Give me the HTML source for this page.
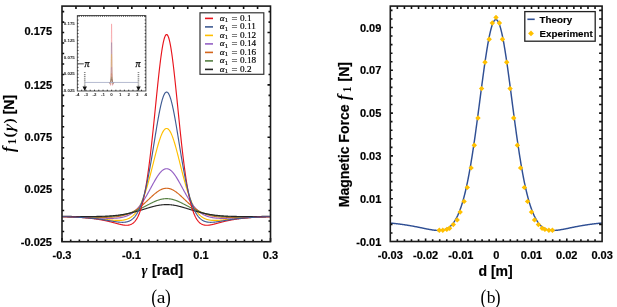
<!DOCTYPE html>
<html><head><meta charset="utf-8"><style>
html,body{margin:0;padding:0;background:#fff;}
svg{display:block;will-change:transform;}
text{font-family:"Liberation Sans",sans-serif;fill:#000;}
.tl{font-size:11px;font-weight:bold;stroke:#000;stroke-width:0.2px;}
.at{font-size:14px;font-weight:bold;stroke:#000;stroke-width:0.2px;}
.cap{font-family:"Liberation Serif",serif;font-size:17.5px;}
.mi{font-family:"Liberation Serif",serif;font-style:italic;font-weight:bold;}
.ms{font-family:"Liberation Serif",serif;font-weight:bold;}
.lg{font-family:"Liberation Serif",serif;font-size:9.2px;fill:#000;stroke:#000;stroke-width:0.18px;}
.lgb{font-size:9.75px;font-weight:bold;stroke:#000;stroke-width:0.15px;}
.it{font-size:4.4px;fill:#222;font-weight:bold;}
.pi{font-family:"Liberation Serif",serif;font-style:italic;font-size:10px;stroke:#000;stroke-width:0.25px;}
</style></head><body>
<svg width="617" height="307" viewBox="0 0 617 307">
<rect width="617" height="307" fill="#fff"/>
<polyline points="62.35,216.65 62.65,216.65 62.95,216.66 63.24,216.67 63.54,216.68 63.84,216.69 64.14,216.69 64.44,216.70 64.73,216.71 65.03,216.72 65.33,216.73 65.63,216.74 65.92,216.75 66.22,216.76 66.52,216.76 66.82,216.77 67.12,216.78 67.41,216.79 67.71,216.80 68.01,216.81 68.31,216.82 68.61,216.83 68.90,216.84 69.20,216.85 69.50,216.86 69.80,216.87 70.09,216.88 70.39,216.89 70.69,216.90 70.99,216.92 71.29,216.93 71.58,216.94 71.88,216.95 72.18,216.96 72.48,216.97 72.77,216.98 73.07,217.00 73.37,217.01 73.67,217.02 73.97,217.03 74.26,217.04 74.56,217.06 74.86,217.07 75.16,217.08 75.46,217.10 75.75,217.11 76.05,217.12 76.35,217.14 76.65,217.15 76.94,217.16 77.24,217.18 77.54,217.19 77.84,217.21 78.14,217.22 78.43,217.24 78.73,217.25 79.03,217.27 79.33,217.28 79.63,217.30 79.92,217.31 80.22,217.33 80.52,217.34 80.82,217.36 81.11,217.38 81.41,217.39 81.71,217.41 82.01,217.43 82.31,217.44 82.60,217.46 82.90,217.48 83.20,217.50 83.50,217.52 83.80,217.53 84.09,217.55 84.39,217.57 84.69,217.59 84.99,217.61 85.28,217.63 85.58,217.65 85.88,217.67 86.18,217.69 86.48,217.71 86.77,217.73 87.07,217.75 87.37,217.77 87.67,217.79 87.97,217.81 88.26,217.83 88.56,217.85 88.86,217.88 89.16,217.90 89.45,217.92 89.75,217.94 90.05,217.97 90.35,217.99 90.65,218.01 90.94,218.04 91.24,218.06 91.54,218.08 91.84,218.11 92.14,218.13 92.43,218.16 92.73,218.18 93.03,218.21 93.33,218.23 93.62,218.26 93.92,218.28 94.22,218.31 94.52,218.34 94.82,218.36 95.11,218.39 95.41,218.42 95.71,218.45 96.01,218.47 96.31,218.50 96.60,218.53 96.90,218.56 97.20,218.59 97.50,218.61 97.79,218.64 98.09,218.67 98.39,218.70 98.69,218.73 98.99,218.76 99.28,218.79 99.58,218.82 99.88,218.85 100.18,218.88 100.48,218.91 100.77,218.94 101.07,218.97 101.37,219.00 101.67,219.04 101.96,219.07 102.26,219.10 102.56,219.13 102.86,219.16 103.16,219.19 103.45,219.23 103.75,219.26 104.05,219.29 104.35,219.32 104.65,219.35 104.94,219.39 105.24,219.42 105.54,219.45 105.84,219.48 106.13,219.51 106.43,219.55 106.73,219.58 107.03,219.61 107.33,219.64 107.62,219.67 107.92,219.70 108.22,219.74 108.52,219.77 108.82,219.80 109.11,219.83 109.41,219.86 109.71,219.89 110.01,219.92 110.30,219.95 110.60,219.98 110.90,220.00 111.20,220.03 111.50,220.06 111.79,220.09 112.09,220.11 112.39,220.14 112.69,220.16 112.99,220.19 113.28,220.21 113.58,220.23 113.88,220.26 114.18,220.28 114.47,220.30 114.77,220.32 115.07,220.33 115.37,220.35 115.67,220.37 115.96,220.38 116.26,220.39 116.56,220.40 116.86,220.41 117.16,220.42 117.45,220.43 117.75,220.44 118.05,220.44 118.35,220.44 118.64,220.44 118.94,220.44 119.24,220.43 119.54,220.43 119.84,220.42 120.13,220.41 120.43,220.39 120.73,220.38 121.03,220.36 121.33,220.33 121.62,220.31 121.92,220.28 122.22,220.25 122.52,220.21 122.81,220.18 123.11,220.13 123.41,220.09 123.71,220.04 124.01,219.99 124.30,219.93 124.60,219.87 124.90,219.80 125.20,219.73 125.50,219.65 125.79,219.57 126.09,219.48 126.39,219.39 126.69,219.29 126.98,219.19 127.28,219.08 127.58,218.97 127.88,218.84 128.18,218.72 128.47,218.58 128.77,218.44 129.07,218.29 129.37,218.13 129.67,217.97 129.96,217.80 130.26,217.62 130.56,217.43 130.86,217.23 131.16,217.02 131.45,216.81 131.75,216.59 132.05,216.35 132.35,216.11 132.64,215.85 132.94,215.59 133.24,215.31 133.54,215.03 133.84,214.73 134.13,214.42 134.43,214.10 134.73,213.77 135.03,213.42 135.32,213.07 135.62,212.70 135.92,212.31 136.22,211.92 136.52,211.51 136.81,211.08 137.11,210.64 137.41,210.19 137.71,209.72 138.01,209.24 138.30,208.74 138.60,208.23 138.90,207.70 139.20,207.16 139.50,206.60 139.79,206.02 140.09,205.43 140.39,204.82 140.69,204.20 140.98,203.55 141.28,202.89 141.58,202.22 141.88,201.52 142.18,200.81 142.47,200.08 142.77,199.33 143.07,198.57 143.37,197.78 143.66,196.98 143.96,196.17 144.26,195.33 144.56,194.48 144.86,193.61 145.15,192.72 145.45,191.82 145.75,190.90 146.05,189.96 146.35,189.00 146.64,188.03 146.94,187.04 147.24,186.04 147.54,185.02 147.84,183.99 148.13,182.94 148.43,181.88 148.73,180.81 149.03,179.72 149.32,178.62 149.62,177.51 149.92,176.39 150.22,175.25 150.52,174.11 150.81,172.96 151.11,171.80 151.41,170.63 151.71,169.46 152.00,168.28 152.30,167.10 152.60,165.91 152.90,164.72 153.20,163.53 153.49,162.34 153.79,161.15 154.09,159.97 154.39,158.78 154.69,157.60 154.98,156.43 155.28,155.26 155.58,154.10 155.88,152.95 156.18,151.81 156.47,150.69 156.77,149.57 157.07,148.47 157.37,147.39 157.66,146.32 157.96,145.28 158.26,144.25 158.56,143.25 158.86,142.26 159.15,141.31 159.45,140.37 159.75,139.47 160.05,138.59 160.34,137.74 160.64,136.92 160.94,136.14 161.24,135.38 161.54,134.66 161.83,133.98 162.13,133.33 162.43,132.72 162.73,132.14 163.03,131.61 163.32,131.11 163.62,130.66 163.92,130.24 164.22,129.87 164.51,129.54 164.81,129.25 165.11,129.01 165.41,128.81 165.71,128.66 166.00,128.54 166.30,128.48 166.60,128.46 166.90,128.48 167.20,128.54 167.49,128.66 167.79,128.81 168.09,129.01 168.39,129.25 168.69,129.54 168.98,129.87 169.28,130.24 169.58,130.66 169.88,131.11 170.17,131.61 170.47,132.14 170.77,132.72 171.07,133.33 171.37,133.98 171.66,134.66 171.96,135.38 172.26,136.14 172.56,136.92 172.85,137.74 173.15,138.59 173.45,139.47 173.75,140.37 174.05,141.31 174.34,142.26 174.64,143.25 174.94,144.25 175.24,145.28 175.54,146.32 175.83,147.39 176.13,148.47 176.43,149.57 176.73,150.69 177.03,151.81 177.32,152.95 177.62,154.10 177.92,155.26 178.22,156.43 178.51,157.60 178.81,158.78 179.11,159.97 179.41,161.15 179.71,162.34 180.00,163.53 180.30,164.72 180.60,165.91 180.90,167.10 181.19,168.28 181.49,169.46 181.79,170.63 182.09,171.80 182.39,172.96 182.68,174.11 182.98,175.25 183.28,176.39 183.58,177.51 183.88,178.62 184.17,179.72 184.47,180.81 184.77,181.88 185.07,182.94 185.36,183.99 185.66,185.02 185.96,186.04 186.26,187.04 186.56,188.03 186.85,189.00 187.15,189.96 187.45,190.90 187.75,191.82 188.05,192.72 188.34,193.61 188.64,194.48 188.94,195.33 189.24,196.17 189.53,196.98 189.83,197.78 190.13,198.57 190.43,199.33 190.73,200.08 191.02,200.81 191.32,201.52 191.62,202.22 191.92,202.89 192.22,203.55 192.51,204.20 192.81,204.82 193.11,205.43 193.41,206.02 193.70,206.60 194.00,207.16 194.30,207.70 194.60,208.23 194.90,208.74 195.19,209.24 195.49,209.72 195.79,210.19 196.09,210.64 196.39,211.08 196.68,211.51 196.98,211.92 197.28,212.31 197.58,212.70 197.88,213.07 198.17,213.42 198.47,213.77 198.77,214.10 199.07,214.42 199.36,214.73 199.66,215.03 199.96,215.31 200.26,215.59 200.56,215.85 200.85,216.11 201.15,216.35 201.45,216.59 201.75,216.81 202.04,217.02 202.34,217.23 202.64,217.43 202.94,217.62 203.24,217.80 203.53,217.97 203.83,218.13 204.13,218.29 204.43,218.44 204.73,218.58 205.02,218.72 205.32,218.84 205.62,218.97 205.92,219.08 206.22,219.19 206.51,219.29 206.81,219.39 207.11,219.48 207.41,219.57 207.70,219.65 208.00,219.73 208.30,219.80 208.60,219.87 208.90,219.93 209.19,219.99 209.49,220.04 209.79,220.09 210.09,220.13 210.38,220.18 210.68,220.21 210.98,220.25 211.28,220.28 211.58,220.31 211.87,220.33 212.17,220.36 212.47,220.38 212.77,220.39 213.07,220.41 213.36,220.42 213.66,220.43 213.96,220.43 214.26,220.44 214.55,220.44 214.85,220.44 215.15,220.44 215.45,220.44 215.75,220.43 216.04,220.42 216.34,220.41 216.64,220.40 216.94,220.39 217.24,220.38 217.53,220.37 217.83,220.35 218.13,220.33 218.43,220.32 218.72,220.30 219.02,220.28 219.32,220.26 219.62,220.23 219.92,220.21 220.21,220.19 220.51,220.16 220.81,220.14 221.11,220.11 221.41,220.09 221.70,220.06 222.00,220.03 222.30,220.00 222.60,219.98 222.89,219.95 223.19,219.92 223.49,219.89 223.79,219.86 224.09,219.83 224.38,219.80 224.68,219.77 224.98,219.74 225.28,219.70 225.58,219.67 225.87,219.64 226.17,219.61 226.47,219.58 226.77,219.55 227.07,219.51 227.36,219.48 227.66,219.45 227.96,219.42 228.26,219.39 228.55,219.35 228.85,219.32 229.15,219.29 229.45,219.26 229.75,219.23 230.04,219.19 230.34,219.16 230.64,219.13 230.94,219.10 231.23,219.07 231.53,219.04 231.83,219.00 232.13,218.97 232.43,218.94 232.72,218.91 233.02,218.88 233.32,218.85 233.62,218.82 233.92,218.79 234.21,218.76 234.51,218.73 234.81,218.70 235.11,218.67 235.40,218.64 235.70,218.61 236.00,218.59 236.30,218.56 236.60,218.53 236.89,218.50 237.19,218.47 237.49,218.45 237.79,218.42 238.09,218.39 238.38,218.36 238.68,218.34 238.98,218.31 239.28,218.28 239.58,218.26 239.87,218.23 240.17,218.21 240.47,218.18 240.77,218.16 241.06,218.13 241.36,218.11 241.66,218.08 241.96,218.06 242.26,218.04 242.55,218.01 242.85,217.99 243.15,217.97 243.45,217.94 243.75,217.92 244.04,217.90 244.34,217.88 244.64,217.85 244.94,217.83 245.23,217.81 245.53,217.79 245.83,217.77 246.13,217.75 246.43,217.73 246.72,217.71 247.02,217.69 247.32,217.67 247.62,217.65 247.91,217.63 248.21,217.61 248.51,217.59 248.81,217.57 249.11,217.55 249.40,217.53 249.70,217.52 250.00,217.50 250.30,217.48 250.60,217.46 250.89,217.44 251.19,217.43 251.49,217.41 251.79,217.39 252.08,217.38 252.38,217.36 252.68,217.34 252.98,217.33 253.28,217.31 253.57,217.30 253.87,217.28 254.17,217.27 254.47,217.25 254.77,217.24 255.06,217.22 255.36,217.21 255.66,217.19 255.96,217.18 256.25,217.16 256.55,217.15 256.85,217.14 257.15,217.12 257.45,217.11 257.74,217.10 258.04,217.08 258.34,217.07 258.64,217.06 258.94,217.04 259.23,217.03 259.53,217.02 259.83,217.01 260.13,217.00 260.43,216.98 260.72,216.97 261.02,216.96 261.32,216.95 261.62,216.94 261.91,216.93 262.21,216.92 262.51,216.90 262.81,216.89 263.11,216.88 263.40,216.87 263.70,216.86 264.00,216.85 264.30,216.84 264.60,216.83 264.89,216.82 265.19,216.81 265.49,216.80 265.79,216.79 266.08,216.78 266.38,216.77 266.68,216.76 266.98,216.76 267.28,216.75 267.57,216.74 267.87,216.73 268.17,216.72 268.47,216.71 268.76,216.70 269.06,216.69 269.36,216.69 269.66,216.68 269.96,216.67 270.25,216.66 270.55,216.65 270.85,216.65" fill="none" stroke="#ffbf00" stroke-width="1.15"/>
<polyline points="62.35,216.60 62.65,216.61 62.95,216.62 63.24,216.62 63.54,216.63 63.84,216.64 64.14,216.65 64.44,216.65 64.73,216.66 65.03,216.67 65.33,216.67 65.63,216.68 65.92,216.69 66.22,216.70 66.52,216.70 66.82,216.71 67.12,216.72 67.41,216.73 67.71,216.73 68.01,216.74 68.31,216.75 68.61,216.76 68.90,216.77 69.20,216.77 69.50,216.78 69.80,216.79 70.09,216.80 70.39,216.81 70.69,216.82 70.99,216.83 71.29,216.83 71.58,216.84 71.88,216.85 72.18,216.86 72.48,216.87 72.77,216.88 73.07,216.89 73.37,216.90 73.67,216.91 73.97,216.92 74.26,216.93 74.56,216.94 74.86,216.95 75.16,216.96 75.46,216.97 75.75,216.98 76.05,216.99 76.35,217.00 76.65,217.01 76.94,217.02 77.24,217.03 77.54,217.04 77.84,217.05 78.14,217.06 78.43,217.07 78.73,217.08 79.03,217.09 79.33,217.10 79.63,217.12 79.92,217.13 80.22,217.14 80.52,217.15 80.82,217.16 81.11,217.17 81.41,217.19 81.71,217.20 82.01,217.21 82.31,217.22 82.60,217.23 82.90,217.25 83.20,217.26 83.50,217.27 83.80,217.28 84.09,217.30 84.39,217.31 84.69,217.32 84.99,217.34 85.28,217.35 85.58,217.36 85.88,217.38 86.18,217.39 86.48,217.40 86.77,217.42 87.07,217.43 87.37,217.44 87.67,217.46 87.97,217.47 88.26,217.48 88.56,217.50 88.86,217.51 89.16,217.53 89.45,217.54 89.75,217.55 90.05,217.57 90.35,217.58 90.65,217.60 90.94,217.61 91.24,217.63 91.54,217.64 91.84,217.66 92.14,217.67 92.43,217.69 92.73,217.70 93.03,217.71 93.33,217.73 93.62,217.74 93.92,217.76 94.22,217.77 94.52,217.79 94.82,217.80 95.11,217.82 95.41,217.83 95.71,217.85 96.01,217.86 96.31,217.88 96.60,217.89 96.90,217.91 97.20,217.92 97.50,217.94 97.79,217.95 98.09,217.97 98.39,217.98 98.69,218.00 98.99,218.01 99.28,218.02 99.58,218.04 99.88,218.05 100.18,218.07 100.48,218.08 100.77,218.09 101.07,218.11 101.37,218.12 101.67,218.13 101.96,218.15 102.26,218.16 102.56,218.17 102.86,218.18 103.16,218.19 103.45,218.21 103.75,218.22 104.05,218.23 104.35,218.24 104.65,218.25 104.94,218.26 105.24,218.27 105.54,218.28 105.84,218.29 106.13,218.30 106.43,218.31 106.73,218.31 107.03,218.32 107.33,218.33 107.62,218.34 107.92,218.34 108.22,218.35 108.52,218.35 108.82,218.36 109.11,218.36 109.41,218.36 109.71,218.36 110.01,218.37 110.30,218.37 110.60,218.37 110.90,218.36 111.20,218.36 111.50,218.36 111.79,218.36 112.09,218.35 112.39,218.35 112.69,218.34 112.99,218.33 113.28,218.32 113.58,218.32 113.88,218.30 114.18,218.29 114.47,218.28 114.77,218.27 115.07,218.25 115.37,218.23 115.67,218.21 115.96,218.19 116.26,218.17 116.56,218.15 116.86,218.12 117.16,218.10 117.45,218.07 117.75,218.04 118.05,218.01 118.35,217.98 118.64,217.94 118.94,217.90 119.24,217.86 119.54,217.82 119.84,217.78 120.13,217.73 120.43,217.68 120.73,217.63 121.03,217.58 121.33,217.52 121.62,217.47 121.92,217.40 122.22,217.34 122.52,217.27 122.81,217.21 123.11,217.13 123.41,217.06 123.71,216.98 124.01,216.90 124.30,216.81 124.60,216.72 124.90,216.63 125.20,216.54 125.50,216.44 125.79,216.34 126.09,216.23 126.39,216.12 126.69,216.01 126.98,215.89 127.28,215.77 127.58,215.64 127.88,215.51 128.18,215.38 128.47,215.24 128.77,215.09 129.07,214.94 129.37,214.79 129.67,214.63 129.96,214.47 130.26,214.30 130.56,214.13 130.86,213.95 131.16,213.76 131.45,213.58 131.75,213.38 132.05,213.18 132.35,212.97 132.64,212.76 132.94,212.54 133.24,212.32 133.54,212.09 133.84,211.86 134.13,211.61 134.43,211.37 134.73,211.11 135.03,210.85 135.32,210.58 135.62,210.31 135.92,210.03 136.22,209.74 136.52,209.45 136.81,209.15 137.11,208.84 137.41,208.53 137.71,208.21 138.01,207.88 138.30,207.55 138.60,207.20 138.90,206.85 139.20,206.50 139.50,206.14 139.79,205.77 140.09,205.39 140.39,205.01 140.69,204.62 140.98,204.22 141.28,203.81 141.58,203.40 141.88,202.99 142.18,202.56 142.47,202.13 142.77,201.69 143.07,201.25 143.37,200.80 143.66,200.34 143.96,199.88 144.26,199.41 144.56,198.93 144.86,198.45 145.15,197.96 145.45,197.47 145.75,196.97 146.05,196.47 146.35,195.96 146.64,195.45 146.94,194.93 147.24,194.41 147.54,193.89 147.84,193.36 148.13,192.83 148.43,192.29 148.73,191.75 149.03,191.21 149.32,190.67 149.62,190.12 149.92,189.57 150.22,189.02 150.52,188.48 150.81,187.92 151.11,187.37 151.41,186.82 151.71,186.27 152.00,185.72 152.30,185.18 152.60,184.63 152.90,184.09 153.20,183.54 153.49,183.00 153.79,182.47 154.09,181.94 154.39,181.41 154.69,180.89 154.98,180.37 155.28,179.86 155.58,179.35 155.88,178.85 156.18,178.36 156.47,177.87 156.77,177.40 157.07,176.93 157.37,176.47 157.66,176.02 157.96,175.58 158.26,175.15 158.56,174.73 158.86,174.32 159.15,173.92 159.45,173.53 159.75,173.16 160.05,172.80 160.34,172.45 160.64,172.12 160.94,171.80 161.24,171.49 161.54,171.20 161.83,170.92 162.13,170.66 162.43,170.42 162.73,170.19 163.03,169.97 163.32,169.77 163.62,169.59 163.92,169.43 164.22,169.28 164.51,169.15 164.81,169.03 165.11,168.94 165.41,168.86 165.71,168.79 166.00,168.75 166.30,168.72 166.60,168.71 166.90,168.72 167.20,168.75 167.49,168.79 167.79,168.86 168.09,168.94 168.39,169.03 168.69,169.15 168.98,169.28 169.28,169.43 169.58,169.59 169.88,169.77 170.17,169.97 170.47,170.19 170.77,170.42 171.07,170.66 171.37,170.92 171.66,171.20 171.96,171.49 172.26,171.80 172.56,172.12 172.85,172.45 173.15,172.80 173.45,173.16 173.75,173.53 174.05,173.92 174.34,174.32 174.64,174.73 174.94,175.15 175.24,175.58 175.54,176.02 175.83,176.47 176.13,176.93 176.43,177.40 176.73,177.87 177.03,178.36 177.32,178.85 177.62,179.35 177.92,179.86 178.22,180.37 178.51,180.89 178.81,181.41 179.11,181.94 179.41,182.47 179.71,183.00 180.00,183.54 180.30,184.09 180.60,184.63 180.90,185.18 181.19,185.72 181.49,186.27 181.79,186.82 182.09,187.37 182.39,187.92 182.68,188.48 182.98,189.02 183.28,189.57 183.58,190.12 183.88,190.67 184.17,191.21 184.47,191.75 184.77,192.29 185.07,192.83 185.36,193.36 185.66,193.89 185.96,194.41 186.26,194.93 186.56,195.45 186.85,195.96 187.15,196.47 187.45,196.97 187.75,197.47 188.05,197.96 188.34,198.45 188.64,198.93 188.94,199.41 189.24,199.88 189.53,200.34 189.83,200.80 190.13,201.25 190.43,201.69 190.73,202.13 191.02,202.56 191.32,202.99 191.62,203.40 191.92,203.81 192.22,204.22 192.51,204.62 192.81,205.01 193.11,205.39 193.41,205.77 193.70,206.14 194.00,206.50 194.30,206.85 194.60,207.20 194.90,207.55 195.19,207.88 195.49,208.21 195.79,208.53 196.09,208.84 196.39,209.15 196.68,209.45 196.98,209.74 197.28,210.03 197.58,210.31 197.88,210.58 198.17,210.85 198.47,211.11 198.77,211.37 199.07,211.61 199.36,211.86 199.66,212.09 199.96,212.32 200.26,212.54 200.56,212.76 200.85,212.97 201.15,213.18 201.45,213.38 201.75,213.58 202.04,213.76 202.34,213.95 202.64,214.13 202.94,214.30 203.24,214.47 203.53,214.63 203.83,214.79 204.13,214.94 204.43,215.09 204.73,215.24 205.02,215.38 205.32,215.51 205.62,215.64 205.92,215.77 206.22,215.89 206.51,216.01 206.81,216.12 207.11,216.23 207.41,216.34 207.70,216.44 208.00,216.54 208.30,216.63 208.60,216.72 208.90,216.81 209.19,216.90 209.49,216.98 209.79,217.06 210.09,217.13 210.38,217.21 210.68,217.27 210.98,217.34 211.28,217.40 211.58,217.47 211.87,217.52 212.17,217.58 212.47,217.63 212.77,217.68 213.07,217.73 213.36,217.78 213.66,217.82 213.96,217.86 214.26,217.90 214.55,217.94 214.85,217.98 215.15,218.01 215.45,218.04 215.75,218.07 216.04,218.10 216.34,218.12 216.64,218.15 216.94,218.17 217.24,218.19 217.53,218.21 217.83,218.23 218.13,218.25 218.43,218.27 218.72,218.28 219.02,218.29 219.32,218.30 219.62,218.32 219.92,218.32 220.21,218.33 220.51,218.34 220.81,218.35 221.11,218.35 221.41,218.36 221.70,218.36 222.00,218.36 222.30,218.36 222.60,218.37 222.89,218.37 223.19,218.37 223.49,218.36 223.79,218.36 224.09,218.36 224.38,218.36 224.68,218.35 224.98,218.35 225.28,218.34 225.58,218.34 225.87,218.33 226.17,218.32 226.47,218.31 226.77,218.31 227.07,218.30 227.36,218.29 227.66,218.28 227.96,218.27 228.26,218.26 228.55,218.25 228.85,218.24 229.15,218.23 229.45,218.22 229.75,218.21 230.04,218.19 230.34,218.18 230.64,218.17 230.94,218.16 231.23,218.15 231.53,218.13 231.83,218.12 232.13,218.11 232.43,218.09 232.72,218.08 233.02,218.07 233.32,218.05 233.62,218.04 233.92,218.02 234.21,218.01 234.51,218.00 234.81,217.98 235.11,217.97 235.40,217.95 235.70,217.94 236.00,217.92 236.30,217.91 236.60,217.89 236.89,217.88 237.19,217.86 237.49,217.85 237.79,217.83 238.09,217.82 238.38,217.80 238.68,217.79 238.98,217.77 239.28,217.76 239.58,217.74 239.87,217.73 240.17,217.71 240.47,217.70 240.77,217.69 241.06,217.67 241.36,217.66 241.66,217.64 241.96,217.63 242.26,217.61 242.55,217.60 242.85,217.58 243.15,217.57 243.45,217.55 243.75,217.54 244.04,217.53 244.34,217.51 244.64,217.50 244.94,217.48 245.23,217.47 245.53,217.46 245.83,217.44 246.13,217.43 246.43,217.42 246.72,217.40 247.02,217.39 247.32,217.38 247.62,217.36 247.91,217.35 248.21,217.34 248.51,217.32 248.81,217.31 249.11,217.30 249.40,217.28 249.70,217.27 250.00,217.26 250.30,217.25 250.60,217.23 250.89,217.22 251.19,217.21 251.49,217.20 251.79,217.19 252.08,217.17 252.38,217.16 252.68,217.15 252.98,217.14 253.28,217.13 253.57,217.12 253.87,217.10 254.17,217.09 254.47,217.08 254.77,217.07 255.06,217.06 255.36,217.05 255.66,217.04 255.96,217.03 256.25,217.02 256.55,217.01 256.85,217.00 257.15,216.99 257.45,216.98 257.74,216.97 258.04,216.96 258.34,216.95 258.64,216.94 258.94,216.93 259.23,216.92 259.53,216.91 259.83,216.90 260.13,216.89 260.43,216.88 260.72,216.87 261.02,216.86 261.32,216.85 261.62,216.84 261.91,216.83 262.21,216.83 262.51,216.82 262.81,216.81 263.11,216.80 263.40,216.79 263.70,216.78 264.00,216.77 264.30,216.77 264.60,216.76 264.89,216.75 265.19,216.74 265.49,216.73 265.79,216.73 266.08,216.72 266.38,216.71 266.68,216.70 266.98,216.70 267.28,216.69 267.57,216.68 267.87,216.67 268.17,216.67 268.47,216.66 268.76,216.65 269.06,216.65 269.36,216.64 269.66,216.63 269.96,216.62 270.25,216.62 270.55,216.61 270.85,216.60" fill="none" stroke="#9460c4" stroke-width="1.15"/>
<polyline points="62.35,216.54 62.65,216.54 62.95,216.55 63.24,216.55 63.54,216.56 63.84,216.56 64.14,216.57 64.44,216.57 64.73,216.58 65.03,216.59 65.33,216.59 65.63,216.60 65.92,216.60 66.22,216.61 66.52,216.61 66.82,216.62 67.12,216.62 67.41,216.63 67.71,216.64 68.01,216.64 68.31,216.65 68.61,216.65 68.90,216.66 69.20,216.67 69.50,216.67 69.80,216.68 70.09,216.69 70.39,216.69 70.69,216.70 70.99,216.70 71.29,216.71 71.58,216.72 71.88,216.72 72.18,216.73 72.48,216.74 72.77,216.74 73.07,216.75 73.37,216.76 73.67,216.76 73.97,216.77 74.26,216.78 74.56,216.78 74.86,216.79 75.16,216.80 75.46,216.80 75.75,216.81 76.05,216.82 76.35,216.82 76.65,216.83 76.94,216.84 77.24,216.85 77.54,216.85 77.84,216.86 78.14,216.87 78.43,216.88 78.73,216.88 79.03,216.89 79.33,216.90 79.63,216.90 79.92,216.91 80.22,216.92 80.52,216.93 80.82,216.93 81.11,216.94 81.41,216.95 81.71,216.96 82.01,216.96 82.31,216.97 82.60,216.98 82.90,216.99 83.20,216.99 83.50,217.00 83.80,217.01 84.09,217.02 84.39,217.03 84.69,217.03 84.99,217.04 85.28,217.05 85.58,217.06 85.88,217.06 86.18,217.07 86.48,217.08 86.77,217.09 87.07,217.09 87.37,217.10 87.67,217.11 87.97,217.12 88.26,217.12 88.56,217.13 88.86,217.14 89.16,217.15 89.45,217.15 89.75,217.16 90.05,217.17 90.35,217.17 90.65,217.18 90.94,217.19 91.24,217.20 91.54,217.20 91.84,217.21 92.14,217.22 92.43,217.22 92.73,217.23 93.03,217.24 93.33,217.24 93.62,217.25 93.92,217.26 94.22,217.26 94.52,217.27 94.82,217.27 95.11,217.28 95.41,217.28 95.71,217.29 96.01,217.30 96.31,217.30 96.60,217.31 96.90,217.31 97.20,217.31 97.50,217.32 97.79,217.32 98.09,217.33 98.39,217.33 98.69,217.34 98.99,217.34 99.28,217.34 99.58,217.34 99.88,217.35 100.18,217.35 100.48,217.35 100.77,217.35 101.07,217.36 101.37,217.36 101.67,217.36 101.96,217.36 102.26,217.36 102.56,217.36 102.86,217.36 103.16,217.36 103.45,217.36 103.75,217.36 104.05,217.35 104.35,217.35 104.65,217.35 104.94,217.34 105.24,217.34 105.54,217.34 105.84,217.33 106.13,217.33 106.43,217.32 106.73,217.32 107.03,217.31 107.33,217.30 107.62,217.29 107.92,217.28 108.22,217.28 108.52,217.27 108.82,217.25 109.11,217.24 109.41,217.23 109.71,217.22 110.01,217.21 110.30,217.19 110.60,217.18 110.90,217.16 111.20,217.14 111.50,217.13 111.79,217.11 112.09,217.09 112.39,217.07 112.69,217.05 112.99,217.03 113.28,217.00 113.58,216.98 113.88,216.95 114.18,216.93 114.47,216.90 114.77,216.87 115.07,216.84 115.37,216.81 115.67,216.78 115.96,216.75 116.26,216.71 116.56,216.68 116.86,216.64 117.16,216.60 117.45,216.56 117.75,216.52 118.05,216.48 118.35,216.44 118.64,216.39 118.94,216.34 119.24,216.29 119.54,216.24 119.84,216.19 120.13,216.14 120.43,216.08 120.73,216.03 121.03,215.97 121.33,215.91 121.62,215.84 121.92,215.78 122.22,215.71 122.52,215.65 122.81,215.58 123.11,215.50 123.41,215.43 123.71,215.35 124.01,215.27 124.30,215.19 124.60,215.11 124.90,215.03 125.20,214.94 125.50,214.85 125.79,214.76 126.09,214.66 126.39,214.56 126.69,214.47 126.98,214.36 127.28,214.26 127.58,214.15 127.88,214.04 128.18,213.93 128.47,213.82 128.77,213.70 129.07,213.58 129.37,213.45 129.67,213.33 129.96,213.20 130.26,213.07 130.56,212.93 130.86,212.80 131.16,212.66 131.45,212.51 131.75,212.37 132.05,212.22 132.35,212.07 132.64,211.91 132.94,211.75 133.24,211.59 133.54,211.43 133.84,211.26 134.13,211.09 134.43,210.92 134.73,210.74 135.03,210.56 135.32,210.38 135.62,210.19 135.92,210.00 136.22,209.81 136.52,209.61 136.81,209.41 137.11,209.21 137.41,209.01 137.71,208.80 138.01,208.59 138.30,208.37 138.60,208.16 138.90,207.94 139.20,207.71 139.50,207.49 139.79,207.26 140.09,207.03 140.39,206.79 140.69,206.55 140.98,206.31 141.28,206.07 141.58,205.83 141.88,205.58 142.18,205.33 142.47,205.07 142.77,204.82 143.07,204.56 143.37,204.30 143.66,204.04 143.96,203.77 144.26,203.51 144.56,203.24 144.86,202.97 145.15,202.70 145.45,202.43 145.75,202.15 146.05,201.88 146.35,201.60 146.64,201.32 146.94,201.04 147.24,200.76 147.54,200.48 147.84,200.20 148.13,199.92 148.43,199.64 148.73,199.35 149.03,199.07 149.32,198.79 149.62,198.51 149.92,198.22 150.22,197.94 150.52,197.66 150.81,197.38 151.11,197.11 151.41,196.83 151.71,196.55 152.00,196.28 152.30,196.01 152.60,195.73 152.90,195.47 153.20,195.20 153.49,194.94 153.79,194.67 154.09,194.42 154.39,194.16 154.69,193.91 154.98,193.66 155.28,193.41 155.58,193.17 155.88,192.93 156.18,192.70 156.47,192.47 156.77,192.25 157.07,192.02 157.37,191.81 157.66,191.60 157.96,191.39 158.26,191.19 158.56,191.00 158.86,190.81 159.15,190.62 159.45,190.45 159.75,190.27 160.05,190.11 160.34,189.95 160.64,189.80 160.94,189.65 161.24,189.51 161.54,189.38 161.83,189.25 162.13,189.13 162.43,189.02 162.73,188.92 163.03,188.82 163.32,188.73 163.62,188.65 163.92,188.57 164.22,188.51 164.51,188.45 164.81,188.40 165.11,188.35 165.41,188.32 165.71,188.29 166.00,188.27 166.30,188.26 166.60,188.25 166.90,188.26 167.20,188.27 167.49,188.29 167.79,188.32 168.09,188.35 168.39,188.40 168.69,188.45 168.98,188.51 169.28,188.57 169.58,188.65 169.88,188.73 170.17,188.82 170.47,188.92 170.77,189.02 171.07,189.13 171.37,189.25 171.66,189.38 171.96,189.51 172.26,189.65 172.56,189.80 172.85,189.95 173.15,190.11 173.45,190.27 173.75,190.45 174.05,190.62 174.34,190.81 174.64,191.00 174.94,191.19 175.24,191.39 175.54,191.60 175.83,191.81 176.13,192.02 176.43,192.25 176.73,192.47 177.03,192.70 177.32,192.93 177.62,193.17 177.92,193.41 178.22,193.66 178.51,193.91 178.81,194.16 179.11,194.42 179.41,194.67 179.71,194.94 180.00,195.20 180.30,195.47 180.60,195.73 180.90,196.01 181.19,196.28 181.49,196.55 181.79,196.83 182.09,197.11 182.39,197.38 182.68,197.66 182.98,197.94 183.28,198.22 183.58,198.51 183.88,198.79 184.17,199.07 184.47,199.35 184.77,199.64 185.07,199.92 185.36,200.20 185.66,200.48 185.96,200.76 186.26,201.04 186.56,201.32 186.85,201.60 187.15,201.88 187.45,202.15 187.75,202.43 188.05,202.70 188.34,202.97 188.64,203.24 188.94,203.51 189.24,203.77 189.53,204.04 189.83,204.30 190.13,204.56 190.43,204.82 190.73,205.07 191.02,205.33 191.32,205.58 191.62,205.83 191.92,206.07 192.22,206.31 192.51,206.55 192.81,206.79 193.11,207.03 193.41,207.26 193.70,207.49 194.00,207.71 194.30,207.94 194.60,208.16 194.90,208.37 195.19,208.59 195.49,208.80 195.79,209.01 196.09,209.21 196.39,209.41 196.68,209.61 196.98,209.81 197.28,210.00 197.58,210.19 197.88,210.38 198.17,210.56 198.47,210.74 198.77,210.92 199.07,211.09 199.36,211.26 199.66,211.43 199.96,211.59 200.26,211.75 200.56,211.91 200.85,212.07 201.15,212.22 201.45,212.37 201.75,212.51 202.04,212.66 202.34,212.80 202.64,212.93 202.94,213.07 203.24,213.20 203.53,213.33 203.83,213.45 204.13,213.58 204.43,213.70 204.73,213.82 205.02,213.93 205.32,214.04 205.62,214.15 205.92,214.26 206.22,214.36 206.51,214.47 206.81,214.56 207.11,214.66 207.41,214.76 207.70,214.85 208.00,214.94 208.30,215.03 208.60,215.11 208.90,215.19 209.19,215.27 209.49,215.35 209.79,215.43 210.09,215.50 210.38,215.58 210.68,215.65 210.98,215.71 211.28,215.78 211.58,215.84 211.87,215.91 212.17,215.97 212.47,216.03 212.77,216.08 213.07,216.14 213.36,216.19 213.66,216.24 213.96,216.29 214.26,216.34 214.55,216.39 214.85,216.44 215.15,216.48 215.45,216.52 215.75,216.56 216.04,216.60 216.34,216.64 216.64,216.68 216.94,216.71 217.24,216.75 217.53,216.78 217.83,216.81 218.13,216.84 218.43,216.87 218.72,216.90 219.02,216.93 219.32,216.95 219.62,216.98 219.92,217.00 220.21,217.03 220.51,217.05 220.81,217.07 221.11,217.09 221.41,217.11 221.70,217.13 222.00,217.14 222.30,217.16 222.60,217.18 222.89,217.19 223.19,217.21 223.49,217.22 223.79,217.23 224.09,217.24 224.38,217.25 224.68,217.27 224.98,217.28 225.28,217.28 225.58,217.29 225.87,217.30 226.17,217.31 226.47,217.32 226.77,217.32 227.07,217.33 227.36,217.33 227.66,217.34 227.96,217.34 228.26,217.34 228.55,217.35 228.85,217.35 229.15,217.35 229.45,217.36 229.75,217.36 230.04,217.36 230.34,217.36 230.64,217.36 230.94,217.36 231.23,217.36 231.53,217.36 231.83,217.36 232.13,217.36 232.43,217.35 232.72,217.35 233.02,217.35 233.32,217.35 233.62,217.34 233.92,217.34 234.21,217.34 234.51,217.34 234.81,217.33 235.11,217.33 235.40,217.32 235.70,217.32 236.00,217.31 236.30,217.31 236.60,217.31 236.89,217.30 237.19,217.30 237.49,217.29 237.79,217.28 238.09,217.28 238.38,217.27 238.68,217.27 238.98,217.26 239.28,217.26 239.58,217.25 239.87,217.24 240.17,217.24 240.47,217.23 240.77,217.22 241.06,217.22 241.36,217.21 241.66,217.20 241.96,217.20 242.26,217.19 242.55,217.18 242.85,217.17 243.15,217.17 243.45,217.16 243.75,217.15 244.04,217.15 244.34,217.14 244.64,217.13 244.94,217.12 245.23,217.12 245.53,217.11 245.83,217.10 246.13,217.09 246.43,217.09 246.72,217.08 247.02,217.07 247.32,217.06 247.62,217.06 247.91,217.05 248.21,217.04 248.51,217.03 248.81,217.03 249.11,217.02 249.40,217.01 249.70,217.00 250.00,216.99 250.30,216.99 250.60,216.98 250.89,216.97 251.19,216.96 251.49,216.96 251.79,216.95 252.08,216.94 252.38,216.93 252.68,216.93 252.98,216.92 253.28,216.91 253.57,216.90 253.87,216.90 254.17,216.89 254.47,216.88 254.77,216.88 255.06,216.87 255.36,216.86 255.66,216.85 255.96,216.85 256.25,216.84 256.55,216.83 256.85,216.82 257.15,216.82 257.45,216.81 257.74,216.80 258.04,216.80 258.34,216.79 258.64,216.78 258.94,216.78 259.23,216.77 259.53,216.76 259.83,216.76 260.13,216.75 260.43,216.74 260.72,216.74 261.02,216.73 261.32,216.72 261.62,216.72 261.91,216.71 262.21,216.70 262.51,216.70 262.81,216.69 263.11,216.69 263.40,216.68 263.70,216.67 264.00,216.67 264.30,216.66 264.60,216.65 264.89,216.65 265.19,216.64 265.49,216.64 265.79,216.63 266.08,216.62 266.38,216.62 266.68,216.61 266.98,216.61 267.28,216.60 267.57,216.60 267.87,216.59 268.17,216.59 268.47,216.58 268.76,216.57 269.06,216.57 269.36,216.56 269.66,216.56 269.96,216.55 270.25,216.55 270.55,216.54 270.85,216.54" fill="none" stroke="#d4661c" stroke-width="1.15"/>
<polyline points="62.35,216.45 62.65,216.46 62.95,216.46 63.24,216.47 63.54,216.47 63.84,216.47 64.14,216.48 64.44,216.48 64.73,216.49 65.03,216.49 65.33,216.49 65.63,216.50 65.92,216.50 66.22,216.50 66.52,216.51 66.82,216.51 67.12,216.52 67.41,216.52 67.71,216.53 68.01,216.53 68.31,216.53 68.61,216.54 68.90,216.54 69.20,216.55 69.50,216.55 69.80,216.55 70.09,216.56 70.39,216.56 70.69,216.57 70.99,216.57 71.29,216.57 71.58,216.58 71.88,216.58 72.18,216.59 72.48,216.59 72.77,216.60 73.07,216.60 73.37,216.60 73.67,216.61 73.97,216.61 74.26,216.62 74.56,216.62 74.86,216.63 75.16,216.63 75.46,216.63 75.75,216.64 76.05,216.64 76.35,216.65 76.65,216.65 76.94,216.65 77.24,216.66 77.54,216.66 77.84,216.67 78.14,216.67 78.43,216.68 78.73,216.68 79.03,216.68 79.33,216.69 79.63,216.69 79.92,216.70 80.22,216.70 80.52,216.70 80.82,216.71 81.11,216.71 81.41,216.72 81.71,216.72 82.01,216.72 82.31,216.73 82.60,216.73 82.90,216.73 83.20,216.74 83.50,216.74 83.80,216.75 84.09,216.75 84.39,216.75 84.69,216.76 84.99,216.76 85.28,216.76 85.58,216.77 85.88,216.77 86.18,216.77 86.48,216.78 86.77,216.78 87.07,216.78 87.37,216.79 87.67,216.79 87.97,216.79 88.26,216.79 88.56,216.80 88.86,216.80 89.16,216.80 89.45,216.80 89.75,216.81 90.05,216.81 90.35,216.81 90.65,216.81 90.94,216.81 91.24,216.81 91.54,216.82 91.84,216.82 92.14,216.82 92.43,216.82 92.73,216.82 93.03,216.82 93.33,216.82 93.62,216.82 93.92,216.82 94.22,216.82 94.52,216.82 94.82,216.82 95.11,216.82 95.41,216.82 95.71,216.82 96.01,216.82 96.31,216.82 96.60,216.82 96.90,216.82 97.20,216.81 97.50,216.81 97.79,216.81 98.09,216.81 98.39,216.80 98.69,216.80 98.99,216.80 99.28,216.80 99.58,216.79 99.88,216.79 100.18,216.78 100.48,216.78 100.77,216.77 101.07,216.77 101.37,216.76 101.67,216.76 101.96,216.75 102.26,216.74 102.56,216.74 102.86,216.73 103.16,216.72 103.45,216.71 103.75,216.71 104.05,216.70 104.35,216.69 104.65,216.68 104.94,216.67 105.24,216.66 105.54,216.65 105.84,216.63 106.13,216.62 106.43,216.61 106.73,216.60 107.03,216.58 107.33,216.57 107.62,216.55 107.92,216.54 108.22,216.52 108.52,216.51 108.82,216.49 109.11,216.47 109.41,216.46 109.71,216.44 110.01,216.42 110.30,216.40 110.60,216.38 110.90,216.36 111.20,216.33 111.50,216.31 111.79,216.29 112.09,216.27 112.39,216.24 112.69,216.22 112.99,216.19 113.28,216.16 113.58,216.13 113.88,216.11 114.18,216.08 114.47,216.05 114.77,216.02 115.07,215.98 115.37,215.95 115.67,215.92 115.96,215.88 116.26,215.85 116.56,215.81 116.86,215.77 117.16,215.73 117.45,215.69 117.75,215.65 118.05,215.61 118.35,215.57 118.64,215.53 118.94,215.48 119.24,215.44 119.54,215.39 119.84,215.34 120.13,215.29 120.43,215.24 120.73,215.19 121.03,215.14 121.33,215.09 121.62,215.03 121.92,214.97 122.22,214.92 122.52,214.86 122.81,214.80 123.11,214.74 123.41,214.67 123.71,214.61 124.01,214.55 124.30,214.48 124.60,214.41 124.90,214.34 125.20,214.27 125.50,214.20 125.79,214.13 126.09,214.05 126.39,213.98 126.69,213.90 126.98,213.82 127.28,213.74 127.58,213.66 127.88,213.57 128.18,213.49 128.47,213.40 128.77,213.31 129.07,213.22 129.37,213.13 129.67,213.04 129.96,212.95 130.26,212.85 130.56,212.75 130.86,212.65 131.16,212.55 131.45,212.45 131.75,212.35 132.05,212.24 132.35,212.14 132.64,212.03 132.94,211.92 133.24,211.81 133.54,211.69 133.84,211.58 134.13,211.46 134.43,211.35 134.73,211.23 135.03,211.11 135.32,210.99 135.62,210.86 135.92,210.74 136.22,210.61 136.52,210.49 136.81,210.36 137.11,210.23 137.41,210.09 137.71,209.96 138.01,209.83 138.30,209.69 138.60,209.55 138.90,209.42 139.20,209.28 139.50,209.14 139.79,208.99 140.09,208.85 140.39,208.71 140.69,208.56 140.98,208.42 141.28,208.27 141.58,208.12 141.88,207.97 142.18,207.82 142.47,207.67 142.77,207.52 143.07,207.37 143.37,207.21 143.66,207.06 143.96,206.91 144.26,206.75 144.56,206.60 144.86,206.44 145.15,206.29 145.45,206.13 145.75,205.97 146.05,205.82 146.35,205.66 146.64,205.50 146.94,205.35 147.24,205.19 147.54,205.03 147.84,204.88 148.13,204.72 148.43,204.57 148.73,204.41 149.03,204.26 149.32,204.10 149.62,203.95 149.92,203.80 150.22,203.64 150.52,203.49 150.81,203.34 151.11,203.19 151.41,203.04 151.71,202.90 152.00,202.75 152.30,202.61 152.60,202.46 152.90,202.32 153.20,202.18 153.49,202.04 153.79,201.91 154.09,201.77 154.39,201.64 154.69,201.51 154.98,201.38 155.28,201.25 155.58,201.13 155.88,201.01 156.18,200.89 156.47,200.77 156.77,200.65 157.07,200.54 157.37,200.43 157.66,200.33 157.96,200.22 158.26,200.12 158.56,200.02 158.86,199.93 159.15,199.83 159.45,199.74 159.75,199.66 160.05,199.57 160.34,199.49 160.64,199.42 160.94,199.35 161.24,199.28 161.54,199.21 161.83,199.15 162.13,199.09 162.43,199.03 162.73,198.98 163.03,198.93 163.32,198.89 163.62,198.85 163.92,198.81 164.22,198.78 164.51,198.75 164.81,198.72 165.11,198.70 165.41,198.68 165.71,198.67 166.00,198.66 166.30,198.65 166.60,198.65 166.90,198.65 167.20,198.66 167.49,198.67 167.79,198.68 168.09,198.70 168.39,198.72 168.69,198.75 168.98,198.78 169.28,198.81 169.58,198.85 169.88,198.89 170.17,198.93 170.47,198.98 170.77,199.03 171.07,199.09 171.37,199.15 171.66,199.21 171.96,199.28 172.26,199.35 172.56,199.42 172.85,199.49 173.15,199.57 173.45,199.66 173.75,199.74 174.05,199.83 174.34,199.93 174.64,200.02 174.94,200.12 175.24,200.22 175.54,200.33 175.83,200.43 176.13,200.54 176.43,200.65 176.73,200.77 177.03,200.89 177.32,201.01 177.62,201.13 177.92,201.25 178.22,201.38 178.51,201.51 178.81,201.64 179.11,201.77 179.41,201.91 179.71,202.04 180.00,202.18 180.30,202.32 180.60,202.46 180.90,202.61 181.19,202.75 181.49,202.90 181.79,203.04 182.09,203.19 182.39,203.34 182.68,203.49 182.98,203.64 183.28,203.80 183.58,203.95 183.88,204.10 184.17,204.26 184.47,204.41 184.77,204.57 185.07,204.72 185.36,204.88 185.66,205.03 185.96,205.19 186.26,205.35 186.56,205.50 186.85,205.66 187.15,205.82 187.45,205.97 187.75,206.13 188.05,206.29 188.34,206.44 188.64,206.60 188.94,206.75 189.24,206.91 189.53,207.06 189.83,207.21 190.13,207.37 190.43,207.52 190.73,207.67 191.02,207.82 191.32,207.97 191.62,208.12 191.92,208.27 192.22,208.42 192.51,208.56 192.81,208.71 193.11,208.85 193.41,208.99 193.70,209.14 194.00,209.28 194.30,209.42 194.60,209.55 194.90,209.69 195.19,209.83 195.49,209.96 195.79,210.09 196.09,210.23 196.39,210.36 196.68,210.49 196.98,210.61 197.28,210.74 197.58,210.86 197.88,210.99 198.17,211.11 198.47,211.23 198.77,211.35 199.07,211.46 199.36,211.58 199.66,211.69 199.96,211.81 200.26,211.92 200.56,212.03 200.85,212.14 201.15,212.24 201.45,212.35 201.75,212.45 202.04,212.55 202.34,212.65 202.64,212.75 202.94,212.85 203.24,212.95 203.53,213.04 203.83,213.13 204.13,213.22 204.43,213.31 204.73,213.40 205.02,213.49 205.32,213.57 205.62,213.66 205.92,213.74 206.22,213.82 206.51,213.90 206.81,213.98 207.11,214.05 207.41,214.13 207.70,214.20 208.00,214.27 208.30,214.34 208.60,214.41 208.90,214.48 209.19,214.55 209.49,214.61 209.79,214.67 210.09,214.74 210.38,214.80 210.68,214.86 210.98,214.92 211.28,214.97 211.58,215.03 211.87,215.09 212.17,215.14 212.47,215.19 212.77,215.24 213.07,215.29 213.36,215.34 213.66,215.39 213.96,215.44 214.26,215.48 214.55,215.53 214.85,215.57 215.15,215.61 215.45,215.65 215.75,215.69 216.04,215.73 216.34,215.77 216.64,215.81 216.94,215.85 217.24,215.88 217.53,215.92 217.83,215.95 218.13,215.98 218.43,216.02 218.72,216.05 219.02,216.08 219.32,216.11 219.62,216.13 219.92,216.16 220.21,216.19 220.51,216.22 220.81,216.24 221.11,216.27 221.41,216.29 221.70,216.31 222.00,216.33 222.30,216.36 222.60,216.38 222.89,216.40 223.19,216.42 223.49,216.44 223.79,216.46 224.09,216.47 224.38,216.49 224.68,216.51 224.98,216.52 225.28,216.54 225.58,216.55 225.87,216.57 226.17,216.58 226.47,216.60 226.77,216.61 227.07,216.62 227.36,216.63 227.66,216.65 227.96,216.66 228.26,216.67 228.55,216.68 228.85,216.69 229.15,216.70 229.45,216.71 229.75,216.71 230.04,216.72 230.34,216.73 230.64,216.74 230.94,216.74 231.23,216.75 231.53,216.76 231.83,216.76 232.13,216.77 232.43,216.77 232.72,216.78 233.02,216.78 233.32,216.79 233.62,216.79 233.92,216.80 234.21,216.80 234.51,216.80 234.81,216.80 235.11,216.81 235.40,216.81 235.70,216.81 236.00,216.81 236.30,216.82 236.60,216.82 236.89,216.82 237.19,216.82 237.49,216.82 237.79,216.82 238.09,216.82 238.38,216.82 238.68,216.82 238.98,216.82 239.28,216.82 239.58,216.82 239.87,216.82 240.17,216.82 240.47,216.82 240.77,216.82 241.06,216.82 241.36,216.82 241.66,216.82 241.96,216.81 242.26,216.81 242.55,216.81 242.85,216.81 243.15,216.81 243.45,216.81 243.75,216.80 244.04,216.80 244.34,216.80 244.64,216.80 244.94,216.79 245.23,216.79 245.53,216.79 245.83,216.79 246.13,216.78 246.43,216.78 246.72,216.78 247.02,216.77 247.32,216.77 247.62,216.77 247.91,216.76 248.21,216.76 248.51,216.76 248.81,216.75 249.11,216.75 249.40,216.75 249.70,216.74 250.00,216.74 250.30,216.73 250.60,216.73 250.89,216.73 251.19,216.72 251.49,216.72 251.79,216.72 252.08,216.71 252.38,216.71 252.68,216.70 252.98,216.70 253.28,216.70 253.57,216.69 253.87,216.69 254.17,216.68 254.47,216.68 254.77,216.68 255.06,216.67 255.36,216.67 255.66,216.66 255.96,216.66 256.25,216.65 256.55,216.65 256.85,216.65 257.15,216.64 257.45,216.64 257.74,216.63 258.04,216.63 258.34,216.63 258.64,216.62 258.94,216.62 259.23,216.61 259.53,216.61 259.83,216.60 260.13,216.60 260.43,216.60 260.72,216.59 261.02,216.59 261.32,216.58 261.62,216.58 261.91,216.57 262.21,216.57 262.51,216.57 262.81,216.56 263.11,216.56 263.40,216.55 263.70,216.55 264.00,216.55 264.30,216.54 264.60,216.54 264.89,216.53 265.19,216.53 265.49,216.53 265.79,216.52 266.08,216.52 266.38,216.51 266.68,216.51 266.98,216.50 267.28,216.50 267.57,216.50 267.87,216.49 268.17,216.49 268.47,216.49 268.76,216.48 269.06,216.48 269.36,216.47 269.66,216.47 269.96,216.47 270.25,216.46 270.55,216.46 270.85,216.45" fill="none" stroke="#557f42" stroke-width="1.15"/>
<polyline points="62.35,216.37 62.65,216.37 62.95,216.37 63.24,216.38 63.54,216.38 63.84,216.38 64.14,216.38 64.44,216.39 64.73,216.39 65.03,216.39 65.33,216.39 65.63,216.40 65.92,216.40 66.22,216.40 66.52,216.40 66.82,216.40 67.12,216.41 67.41,216.41 67.71,216.41 68.01,216.41 68.31,216.42 68.61,216.42 68.90,216.42 69.20,216.42 69.50,216.43 69.80,216.43 70.09,216.43 70.39,216.43 70.69,216.44 70.99,216.44 71.29,216.44 71.58,216.44 71.88,216.45 72.18,216.45 72.48,216.45 72.77,216.45 73.07,216.46 73.37,216.46 73.67,216.46 73.97,216.46 74.26,216.46 74.56,216.47 74.86,216.47 75.16,216.47 75.46,216.47 75.75,216.47 76.05,216.48 76.35,216.48 76.65,216.48 76.94,216.48 77.24,216.48 77.54,216.49 77.84,216.49 78.14,216.49 78.43,216.49 78.73,216.49 79.03,216.49 79.33,216.50 79.63,216.50 79.92,216.50 80.22,216.50 80.52,216.50 80.82,216.50 81.11,216.50 81.41,216.51 81.71,216.51 82.01,216.51 82.31,216.51 82.60,216.51 82.90,216.51 83.20,216.51 83.50,216.51 83.80,216.51 84.09,216.51 84.39,216.51 84.69,216.52 84.99,216.52 85.28,216.52 85.58,216.52 85.88,216.52 86.18,216.52 86.48,216.52 86.77,216.52 87.07,216.52 87.37,216.52 87.67,216.52 87.97,216.52 88.26,216.51 88.56,216.51 88.86,216.51 89.16,216.51 89.45,216.51 89.75,216.51 90.05,216.51 90.35,216.51 90.65,216.51 90.94,216.50 91.24,216.50 91.54,216.50 91.84,216.50 92.14,216.50 92.43,216.49 92.73,216.49 93.03,216.49 93.33,216.49 93.62,216.48 93.92,216.48 94.22,216.48 94.52,216.47 94.82,216.47 95.11,216.46 95.41,216.46 95.71,216.46 96.01,216.45 96.31,216.45 96.60,216.44 96.90,216.44 97.20,216.43 97.50,216.43 97.79,216.42 98.09,216.41 98.39,216.41 98.69,216.40 98.99,216.39 99.28,216.39 99.58,216.38 99.88,216.37 100.18,216.37 100.48,216.36 100.77,216.35 101.07,216.34 101.37,216.33 101.67,216.32 101.96,216.31 102.26,216.30 102.56,216.29 102.86,216.28 103.16,216.27 103.45,216.26 103.75,216.25 104.05,216.24 104.35,216.23 104.65,216.21 104.94,216.20 105.24,216.19 105.54,216.17 105.84,216.16 106.13,216.15 106.43,216.13 106.73,216.12 107.03,216.10 107.33,216.08 107.62,216.07 107.92,216.05 108.22,216.03 108.52,216.02 108.82,216.00 109.11,215.98 109.41,215.96 109.71,215.94 110.01,215.92 110.30,215.90 110.60,215.88 110.90,215.86 111.20,215.84 111.50,215.82 111.79,215.79 112.09,215.77 112.39,215.74 112.69,215.72 112.99,215.70 113.28,215.67 113.58,215.64 113.88,215.62 114.18,215.59 114.47,215.56 114.77,215.53 115.07,215.50 115.37,215.47 115.67,215.44 115.96,215.41 116.26,215.38 116.56,215.35 116.86,215.32 117.16,215.28 117.45,215.25 117.75,215.21 118.05,215.18 118.35,215.14 118.64,215.10 118.94,215.07 119.24,215.03 119.54,214.99 119.84,214.95 120.13,214.91 120.43,214.87 120.73,214.82 121.03,214.78 121.33,214.74 121.62,214.69 121.92,214.65 122.22,214.60 122.52,214.56 122.81,214.51 123.11,214.46 123.41,214.41 123.71,214.36 124.01,214.31 124.30,214.26 124.60,214.21 124.90,214.15 125.20,214.10 125.50,214.05 125.79,213.99 126.09,213.93 126.39,213.88 126.69,213.82 126.98,213.76 127.28,213.70 127.58,213.64 127.88,213.58 128.18,213.52 128.47,213.46 128.77,213.39 129.07,213.33 129.37,213.26 129.67,213.20 129.96,213.13 130.26,213.06 130.56,212.99 130.86,212.92 131.16,212.85 131.45,212.78 131.75,212.71 132.05,212.64 132.35,212.57 132.64,212.49 132.94,212.42 133.24,212.34 133.54,212.27 133.84,212.19 134.13,212.11 134.43,212.03 134.73,211.95 135.03,211.87 135.32,211.79 135.62,211.71 135.92,211.63 136.22,211.55 136.52,211.46 136.81,211.38 137.11,211.30 137.41,211.21 137.71,211.13 138.01,211.04 138.30,210.95 138.60,210.87 138.90,210.78 139.20,210.69 139.50,210.60 139.79,210.51 140.09,210.42 140.39,210.33 140.69,210.24 140.98,210.15 141.28,210.06 141.58,209.97 141.88,209.88 142.18,209.79 142.47,209.70 142.77,209.60 143.07,209.51 143.37,209.42 143.66,209.33 143.96,209.23 144.26,209.14 144.56,209.05 144.86,208.96 145.15,208.86 145.45,208.77 145.75,208.68 146.05,208.59 146.35,208.50 146.64,208.40 146.94,208.31 147.24,208.22 147.54,208.13 147.84,208.04 148.13,207.95 148.43,207.86 148.73,207.77 149.03,207.68 149.32,207.59 149.62,207.51 149.92,207.42 150.22,207.33 150.52,207.25 150.81,207.16 151.11,207.08 151.41,206.99 151.71,206.91 152.00,206.83 152.30,206.75 152.60,206.67 152.90,206.59 153.20,206.51 153.49,206.44 153.79,206.36 154.09,206.29 154.39,206.21 154.69,206.14 154.98,206.07 155.28,206.00 155.58,205.93 155.88,205.86 156.18,205.80 156.47,205.73 156.77,205.67 157.07,205.61 157.37,205.55 157.66,205.49 157.96,205.44 158.26,205.38 158.56,205.33 158.86,205.28 159.15,205.23 159.45,205.18 159.75,205.13 160.05,205.09 160.34,205.04 160.64,205.00 160.94,204.96 161.24,204.93 161.54,204.89 161.83,204.86 162.13,204.83 162.43,204.80 162.73,204.77 163.03,204.74 163.32,204.72 163.62,204.70 163.92,204.68 164.22,204.66 164.51,204.65 164.81,204.63 165.11,204.62 165.41,204.61 165.71,204.60 166.00,204.60 166.30,204.60 166.60,204.60 166.90,204.60 167.20,204.60 167.49,204.60 167.79,204.61 168.09,204.62 168.39,204.63 168.69,204.65 168.98,204.66 169.28,204.68 169.58,204.70 169.88,204.72 170.17,204.74 170.47,204.77 170.77,204.80 171.07,204.83 171.37,204.86 171.66,204.89 171.96,204.93 172.26,204.96 172.56,205.00 172.85,205.04 173.15,205.09 173.45,205.13 173.75,205.18 174.05,205.23 174.34,205.28 174.64,205.33 174.94,205.38 175.24,205.44 175.54,205.49 175.83,205.55 176.13,205.61 176.43,205.67 176.73,205.73 177.03,205.80 177.32,205.86 177.62,205.93 177.92,206.00 178.22,206.07 178.51,206.14 178.81,206.21 179.11,206.29 179.41,206.36 179.71,206.44 180.00,206.51 180.30,206.59 180.60,206.67 180.90,206.75 181.19,206.83 181.49,206.91 181.79,206.99 182.09,207.08 182.39,207.16 182.68,207.25 182.98,207.33 183.28,207.42 183.58,207.51 183.88,207.59 184.17,207.68 184.47,207.77 184.77,207.86 185.07,207.95 185.36,208.04 185.66,208.13 185.96,208.22 186.26,208.31 186.56,208.40 186.85,208.50 187.15,208.59 187.45,208.68 187.75,208.77 188.05,208.86 188.34,208.96 188.64,209.05 188.94,209.14 189.24,209.23 189.53,209.33 189.83,209.42 190.13,209.51 190.43,209.60 190.73,209.70 191.02,209.79 191.32,209.88 191.62,209.97 191.92,210.06 192.22,210.15 192.51,210.24 192.81,210.33 193.11,210.42 193.41,210.51 193.70,210.60 194.00,210.69 194.30,210.78 194.60,210.87 194.90,210.95 195.19,211.04 195.49,211.13 195.79,211.21 196.09,211.30 196.39,211.38 196.68,211.46 196.98,211.55 197.28,211.63 197.58,211.71 197.88,211.79 198.17,211.87 198.47,211.95 198.77,212.03 199.07,212.11 199.36,212.19 199.66,212.27 199.96,212.34 200.26,212.42 200.56,212.49 200.85,212.57 201.15,212.64 201.45,212.71 201.75,212.78 202.04,212.85 202.34,212.92 202.64,212.99 202.94,213.06 203.24,213.13 203.53,213.20 203.83,213.26 204.13,213.33 204.43,213.39 204.73,213.46 205.02,213.52 205.32,213.58 205.62,213.64 205.92,213.70 206.22,213.76 206.51,213.82 206.81,213.88 207.11,213.93 207.41,213.99 207.70,214.05 208.00,214.10 208.30,214.15 208.60,214.21 208.90,214.26 209.19,214.31 209.49,214.36 209.79,214.41 210.09,214.46 210.38,214.51 210.68,214.56 210.98,214.60 211.28,214.65 211.58,214.69 211.87,214.74 212.17,214.78 212.47,214.82 212.77,214.87 213.07,214.91 213.36,214.95 213.66,214.99 213.96,215.03 214.26,215.07 214.55,215.10 214.85,215.14 215.15,215.18 215.45,215.21 215.75,215.25 216.04,215.28 216.34,215.32 216.64,215.35 216.94,215.38 217.24,215.41 217.53,215.44 217.83,215.47 218.13,215.50 218.43,215.53 218.72,215.56 219.02,215.59 219.32,215.62 219.62,215.64 219.92,215.67 220.21,215.70 220.51,215.72 220.81,215.74 221.11,215.77 221.41,215.79 221.70,215.82 222.00,215.84 222.30,215.86 222.60,215.88 222.89,215.90 223.19,215.92 223.49,215.94 223.79,215.96 224.09,215.98 224.38,216.00 224.68,216.02 224.98,216.03 225.28,216.05 225.58,216.07 225.87,216.08 226.17,216.10 226.47,216.12 226.77,216.13 227.07,216.15 227.36,216.16 227.66,216.17 227.96,216.19 228.26,216.20 228.55,216.21 228.85,216.23 229.15,216.24 229.45,216.25 229.75,216.26 230.04,216.27 230.34,216.28 230.64,216.29 230.94,216.30 231.23,216.31 231.53,216.32 231.83,216.33 232.13,216.34 232.43,216.35 232.72,216.36 233.02,216.37 233.32,216.37 233.62,216.38 233.92,216.39 234.21,216.39 234.51,216.40 234.81,216.41 235.11,216.41 235.40,216.42 235.70,216.43 236.00,216.43 236.30,216.44 236.60,216.44 236.89,216.45 237.19,216.45 237.49,216.46 237.79,216.46 238.09,216.46 238.38,216.47 238.68,216.47 238.98,216.48 239.28,216.48 239.58,216.48 239.87,216.49 240.17,216.49 240.47,216.49 240.77,216.49 241.06,216.50 241.36,216.50 241.66,216.50 241.96,216.50 242.26,216.50 242.55,216.51 242.85,216.51 243.15,216.51 243.45,216.51 243.75,216.51 244.04,216.51 244.34,216.51 244.64,216.51 244.94,216.51 245.23,216.52 245.53,216.52 245.83,216.52 246.13,216.52 246.43,216.52 246.72,216.52 247.02,216.52 247.32,216.52 247.62,216.52 247.91,216.52 248.21,216.52 248.51,216.52 248.81,216.51 249.11,216.51 249.40,216.51 249.70,216.51 250.00,216.51 250.30,216.51 250.60,216.51 250.89,216.51 251.19,216.51 251.49,216.51 251.79,216.51 252.08,216.50 252.38,216.50 252.68,216.50 252.98,216.50 253.28,216.50 253.57,216.50 253.87,216.50 254.17,216.49 254.47,216.49 254.77,216.49 255.06,216.49 255.36,216.49 255.66,216.49 255.96,216.48 256.25,216.48 256.55,216.48 256.85,216.48 257.15,216.48 257.45,216.47 257.74,216.47 258.04,216.47 258.34,216.47 258.64,216.47 258.94,216.46 259.23,216.46 259.53,216.46 259.83,216.46 260.13,216.46 260.43,216.45 260.72,216.45 261.02,216.45 261.32,216.45 261.62,216.44 261.91,216.44 262.21,216.44 262.51,216.44 262.81,216.43 263.11,216.43 263.40,216.43 263.70,216.43 264.00,216.42 264.30,216.42 264.60,216.42 264.89,216.42 265.19,216.41 265.49,216.41 265.79,216.41 266.08,216.41 266.38,216.40 266.68,216.40 266.98,216.40 267.28,216.40 267.57,216.40 267.87,216.39 268.17,216.39 268.47,216.39 268.76,216.39 269.06,216.38 269.36,216.38 269.66,216.38 269.96,216.38 270.25,216.37 270.55,216.37 270.85,216.37" fill="none" stroke="#262626" stroke-width="1.15"/>
<polyline points="62.35,216.65 62.65,216.66 62.95,216.67 63.24,216.68 63.54,216.68 63.84,216.69 64.14,216.70 64.44,216.71 64.73,216.72 65.03,216.73 65.33,216.74 65.63,216.75 65.92,216.76 66.22,216.77 66.52,216.78 66.82,216.79 67.12,216.80 67.41,216.81 67.71,216.82 68.01,216.83 68.31,216.84 68.61,216.86 68.90,216.87 69.20,216.88 69.50,216.89 69.80,216.90 70.09,216.91 70.39,216.93 70.69,216.94 70.99,216.95 71.29,216.96 71.58,216.98 71.88,216.99 72.18,217.00 72.48,217.02 72.77,217.03 73.07,217.05 73.37,217.06 73.67,217.07 73.97,217.09 74.26,217.10 74.56,217.12 74.86,217.13 75.16,217.15 75.46,217.16 75.75,217.18 76.05,217.20 76.35,217.21 76.65,217.23 76.94,217.24 77.24,217.26 77.54,217.28 77.84,217.30 78.14,217.31 78.43,217.33 78.73,217.35 79.03,217.37 79.33,217.39 79.63,217.41 79.92,217.43 80.22,217.45 80.52,217.47 80.82,217.49 81.11,217.51 81.41,217.53 81.71,217.55 82.01,217.57 82.31,217.59 82.60,217.61 82.90,217.64 83.20,217.66 83.50,217.68 83.80,217.70 84.09,217.73 84.39,217.75 84.69,217.78 84.99,217.80 85.28,217.83 85.58,217.85 85.88,217.88 86.18,217.90 86.48,217.93 86.77,217.96 87.07,217.98 87.37,218.01 87.67,218.04 87.97,218.07 88.26,218.10 88.56,218.13 88.86,218.16 89.16,218.19 89.45,218.22 89.75,218.25 90.05,218.28 90.35,218.31 90.65,218.35 90.94,218.38 91.24,218.41 91.54,218.45 91.84,218.48 92.14,218.52 92.43,218.55 92.73,218.59 93.03,218.62 93.33,218.66 93.62,218.70 93.92,218.74 94.22,218.77 94.52,218.81 94.82,218.85 95.11,218.89 95.41,218.93 95.71,218.98 96.01,219.02 96.31,219.06 96.60,219.10 96.90,219.15 97.20,219.19 97.50,219.24 97.79,219.28 98.09,219.33 98.39,219.38 98.69,219.42 98.99,219.47 99.28,219.52 99.58,219.57 99.88,219.62 100.18,219.67 100.48,219.72 100.77,219.77 101.07,219.83 101.37,219.88 101.67,219.93 101.96,219.99 102.26,220.05 102.56,220.10 102.86,220.16 103.16,220.22 103.45,220.27 103.75,220.33 104.05,220.39 104.35,220.45 104.65,220.52 104.94,220.58 105.24,220.64 105.54,220.70 105.84,220.77 106.13,220.83 106.43,220.90 106.73,220.96 107.03,221.03 107.33,221.10 107.62,221.17 107.92,221.23 108.22,221.30 108.52,221.37 108.82,221.45 109.11,221.52 109.41,221.59 109.71,221.66 110.01,221.74 110.30,221.81 110.60,221.88 110.90,221.96 111.20,222.03 111.50,222.11 111.79,222.19 112.09,222.26 112.39,222.34 112.69,222.42 112.99,222.50 113.28,222.58 113.58,222.66 113.88,222.73 114.18,222.81 114.47,222.89 114.77,222.97 115.07,223.05 115.37,223.13 115.67,223.21 115.96,223.29 116.26,223.37 116.56,223.45 116.86,223.53 117.16,223.61 117.45,223.69 117.75,223.77 118.05,223.85 118.35,223.92 118.64,224.00 118.94,224.07 119.24,224.15 119.54,224.22 119.84,224.29 120.13,224.36 120.43,224.43 120.73,224.50 121.03,224.57 121.33,224.63 121.62,224.70 121.92,224.76 122.22,224.81 122.52,224.87 122.81,224.92 123.11,224.97 123.41,225.02 123.71,225.07 124.01,225.11 124.30,225.14 124.60,225.18 124.90,225.21 125.20,225.23 125.50,225.25 125.79,225.27 126.09,225.28 126.39,225.28 126.69,225.28 126.98,225.27 127.28,225.26 127.58,225.24 127.88,225.21 128.18,225.17 128.47,225.13 128.77,225.08 129.07,225.02 129.37,224.95 129.67,224.87 129.96,224.78 130.26,224.68 130.56,224.57 130.86,224.45 131.16,224.31 131.45,224.17 131.75,224.01 132.05,223.83 132.35,223.64 132.64,223.44 132.94,223.22 133.24,222.98 133.54,222.73 133.84,222.46 134.13,222.17 134.43,221.87 134.73,221.54 135.03,221.19 135.32,220.82 135.62,220.43 135.92,220.01 136.22,219.58 136.52,219.11 136.81,218.62 137.11,218.11 137.41,217.57 137.71,217.00 138.01,216.40 138.30,215.77 138.60,215.11 138.90,214.41 139.20,213.69 139.50,212.93 139.79,212.13 140.09,211.30 140.39,210.44 140.69,209.53 140.98,208.59 141.28,207.60 141.58,206.58 141.88,205.51 142.18,204.41 142.47,203.26 142.77,202.06 143.07,200.82 143.37,199.53 143.66,198.20 143.96,196.82 144.26,195.39 144.56,193.91 144.86,192.38 145.15,190.80 145.45,189.17 145.75,187.49 146.05,185.76 146.35,183.97 146.64,182.13 146.94,180.24 147.24,178.30 147.54,176.31 147.84,174.26 148.13,172.16 148.43,170.01 148.73,167.80 149.03,165.55 149.32,163.24 149.62,160.89 149.92,158.48 150.22,156.03 150.52,153.53 150.81,150.99 151.11,148.40 151.41,145.77 151.71,143.10 152.00,140.39 152.30,137.64 152.60,134.86 152.90,132.05 153.20,129.21 153.49,126.34 153.79,123.45 154.09,120.54 154.39,117.61 154.69,114.67 154.98,111.72 155.28,108.76 155.58,105.80 155.88,102.84 156.18,99.88 156.47,96.94 156.77,94.00 157.07,91.09 157.37,88.20 157.66,85.34 157.96,82.50 158.26,79.71 158.56,76.96 158.86,74.25 159.15,71.59 159.45,68.99 159.75,66.45 160.05,63.98 160.34,61.58 160.64,59.25 160.94,57.00 161.24,54.84 161.54,52.77 161.83,50.79 162.13,48.90 162.43,47.12 162.73,45.44 163.03,43.87 163.32,42.42 163.62,41.08 163.92,39.85 164.22,38.75 164.51,37.77 164.81,36.92 165.11,36.20 165.41,35.60 165.71,35.14 166.00,34.81 166.30,34.61 166.60,34.54 166.90,34.61 167.20,34.81 167.49,35.14 167.79,35.60 168.09,36.20 168.39,36.92 168.69,37.77 168.98,38.75 169.28,39.85 169.58,41.08 169.88,42.42 170.17,43.87 170.47,45.44 170.77,47.12 171.07,48.90 171.37,50.79 171.66,52.77 171.96,54.84 172.26,57.00 172.56,59.25 172.85,61.58 173.15,63.98 173.45,66.45 173.75,68.99 174.05,71.59 174.34,74.25 174.64,76.96 174.94,79.71 175.24,82.50 175.54,85.34 175.83,88.20 176.13,91.09 176.43,94.00 176.73,96.94 177.03,99.88 177.32,102.84 177.62,105.80 177.92,108.76 178.22,111.72 178.51,114.67 178.81,117.61 179.11,120.54 179.41,123.45 179.71,126.34 180.00,129.21 180.30,132.05 180.60,134.86 180.90,137.64 181.19,140.39 181.49,143.10 181.79,145.77 182.09,148.40 182.39,150.99 182.68,153.53 182.98,156.03 183.28,158.48 183.58,160.89 183.88,163.24 184.17,165.55 184.47,167.80 184.77,170.01 185.07,172.16 185.36,174.26 185.66,176.31 185.96,178.30 186.26,180.24 186.56,182.13 186.85,183.97 187.15,185.76 187.45,187.49 187.75,189.17 188.05,190.80 188.34,192.38 188.64,193.91 188.94,195.39 189.24,196.82 189.53,198.20 189.83,199.53 190.13,200.82 190.43,202.06 190.73,203.26 191.02,204.41 191.32,205.51 191.62,206.58 191.92,207.60 192.22,208.59 192.51,209.53 192.81,210.44 193.11,211.30 193.41,212.13 193.70,212.93 194.00,213.69 194.30,214.41 194.60,215.11 194.90,215.77 195.19,216.40 195.49,217.00 195.79,217.57 196.09,218.11 196.39,218.62 196.68,219.11 196.98,219.58 197.28,220.01 197.58,220.43 197.88,220.82 198.17,221.19 198.47,221.54 198.77,221.87 199.07,222.17 199.36,222.46 199.66,222.73 199.96,222.98 200.26,223.22 200.56,223.44 200.85,223.64 201.15,223.83 201.45,224.01 201.75,224.17 202.04,224.31 202.34,224.45 202.64,224.57 202.94,224.68 203.24,224.78 203.53,224.87 203.83,224.95 204.13,225.02 204.43,225.08 204.73,225.13 205.02,225.17 205.32,225.21 205.62,225.24 205.92,225.26 206.22,225.27 206.51,225.28 206.81,225.28 207.11,225.28 207.41,225.27 207.70,225.25 208.00,225.23 208.30,225.21 208.60,225.18 208.90,225.14 209.19,225.11 209.49,225.07 209.79,225.02 210.09,224.97 210.38,224.92 210.68,224.87 210.98,224.81 211.28,224.76 211.58,224.70 211.87,224.63 212.17,224.57 212.47,224.50 212.77,224.43 213.07,224.36 213.36,224.29 213.66,224.22 213.96,224.15 214.26,224.07 214.55,224.00 214.85,223.92 215.15,223.85 215.45,223.77 215.75,223.69 216.04,223.61 216.34,223.53 216.64,223.45 216.94,223.37 217.24,223.29 217.53,223.21 217.83,223.13 218.13,223.05 218.43,222.97 218.72,222.89 219.02,222.81 219.32,222.73 219.62,222.66 219.92,222.58 220.21,222.50 220.51,222.42 220.81,222.34 221.11,222.26 221.41,222.19 221.70,222.11 222.00,222.03 222.30,221.96 222.60,221.88 222.89,221.81 223.19,221.74 223.49,221.66 223.79,221.59 224.09,221.52 224.38,221.45 224.68,221.37 224.98,221.30 225.28,221.23 225.58,221.17 225.87,221.10 226.17,221.03 226.47,220.96 226.77,220.90 227.07,220.83 227.36,220.77 227.66,220.70 227.96,220.64 228.26,220.58 228.55,220.52 228.85,220.45 229.15,220.39 229.45,220.33 229.75,220.27 230.04,220.22 230.34,220.16 230.64,220.10 230.94,220.05 231.23,219.99 231.53,219.93 231.83,219.88 232.13,219.83 232.43,219.77 232.72,219.72 233.02,219.67 233.32,219.62 233.62,219.57 233.92,219.52 234.21,219.47 234.51,219.42 234.81,219.38 235.11,219.33 235.40,219.28 235.70,219.24 236.00,219.19 236.30,219.15 236.60,219.10 236.89,219.06 237.19,219.02 237.49,218.98 237.79,218.93 238.09,218.89 238.38,218.85 238.68,218.81 238.98,218.77 239.28,218.74 239.58,218.70 239.87,218.66 240.17,218.62 240.47,218.59 240.77,218.55 241.06,218.52 241.36,218.48 241.66,218.45 241.96,218.41 242.26,218.38 242.55,218.35 242.85,218.31 243.15,218.28 243.45,218.25 243.75,218.22 244.04,218.19 244.34,218.16 244.64,218.13 244.94,218.10 245.23,218.07 245.53,218.04 245.83,218.01 246.13,217.98 246.43,217.96 246.72,217.93 247.02,217.90 247.32,217.88 247.62,217.85 247.91,217.83 248.21,217.80 248.51,217.78 248.81,217.75 249.11,217.73 249.40,217.70 249.70,217.68 250.00,217.66 250.30,217.64 250.60,217.61 250.89,217.59 251.19,217.57 251.49,217.55 251.79,217.53 252.08,217.51 252.38,217.49 252.68,217.47 252.98,217.45 253.28,217.43 253.57,217.41 253.87,217.39 254.17,217.37 254.47,217.35 254.77,217.33 255.06,217.31 255.36,217.30 255.66,217.28 255.96,217.26 256.25,217.24 256.55,217.23 256.85,217.21 257.15,217.20 257.45,217.18 257.74,217.16 258.04,217.15 258.34,217.13 258.64,217.12 258.94,217.10 259.23,217.09 259.53,217.07 259.83,217.06 260.13,217.05 260.43,217.03 260.72,217.02 261.02,217.00 261.32,216.99 261.62,216.98 261.91,216.96 262.21,216.95 262.51,216.94 262.81,216.93 263.11,216.91 263.40,216.90 263.70,216.89 264.00,216.88 264.30,216.87 264.60,216.86 264.89,216.84 265.19,216.83 265.49,216.82 265.79,216.81 266.08,216.80 266.38,216.79 266.68,216.78 266.98,216.77 267.28,216.76 267.57,216.75 267.87,216.74 268.17,216.73 268.47,216.72 268.76,216.71 269.06,216.70 269.36,216.69 269.66,216.68 269.96,216.68 270.25,216.67 270.55,216.66 270.85,216.65" fill="none" stroke="#e8141c" stroke-width="1.15"/>
<polyline points="62.35,216.65 62.65,216.66 62.95,216.67 63.24,216.68 63.54,216.69 63.84,216.70 64.14,216.70 64.44,216.71 64.73,216.72 65.03,216.73 65.33,216.74 65.63,216.75 65.92,216.76 66.22,216.77 66.52,216.78 66.82,216.79 67.12,216.80 67.41,216.81 67.71,216.82 68.01,216.83 68.31,216.84 68.61,216.85 68.90,216.86 69.20,216.87 69.50,216.88 69.80,216.90 70.09,216.91 70.39,216.92 70.69,216.93 70.99,216.94 71.29,216.95 71.58,216.97 71.88,216.98 72.18,216.99 72.48,217.00 72.77,217.02 73.07,217.03 73.37,217.04 73.67,217.06 73.97,217.07 74.26,217.08 74.56,217.10 74.86,217.11 75.16,217.13 75.46,217.14 75.75,217.15 76.05,217.17 76.35,217.18 76.65,217.20 76.94,217.21 77.24,217.23 77.54,217.25 77.84,217.26 78.14,217.28 78.43,217.30 78.73,217.31 79.03,217.33 79.33,217.35 79.63,217.36 79.92,217.38 80.22,217.40 80.52,217.42 80.82,217.44 81.11,217.45 81.41,217.47 81.71,217.49 82.01,217.51 82.31,217.53 82.60,217.55 82.90,217.57 83.20,217.59 83.50,217.61 83.80,217.63 84.09,217.65 84.39,217.68 84.69,217.70 84.99,217.72 85.28,217.74 85.58,217.76 85.88,217.79 86.18,217.81 86.48,217.83 86.77,217.86 87.07,217.88 87.37,217.91 87.67,217.93 87.97,217.96 88.26,217.98 88.56,218.01 88.86,218.03 89.16,218.06 89.45,218.09 89.75,218.11 90.05,218.14 90.35,218.17 90.65,218.20 90.94,218.22 91.24,218.25 91.54,218.28 91.84,218.31 92.14,218.34 92.43,218.37 92.73,218.40 93.03,218.43 93.33,218.46 93.62,218.50 93.92,218.53 94.22,218.56 94.52,218.59 94.82,218.63 95.11,218.66 95.41,218.69 95.71,218.73 96.01,218.76 96.31,218.80 96.60,218.83 96.90,218.87 97.20,218.91 97.50,218.94 97.79,218.98 98.09,219.02 98.39,219.05 98.69,219.09 98.99,219.13 99.28,219.17 99.58,219.21 99.88,219.25 100.18,219.29 100.48,219.33 100.77,219.37 101.07,219.41 101.37,219.46 101.67,219.50 101.96,219.54 102.26,219.58 102.56,219.63 102.86,219.67 103.16,219.72 103.45,219.76 103.75,219.81 104.05,219.85 104.35,219.90 104.65,219.94 104.94,219.99 105.24,220.03 105.54,220.08 105.84,220.13 106.13,220.18 106.43,220.22 106.73,220.27 107.03,220.32 107.33,220.37 107.62,220.42 107.92,220.47 108.22,220.51 108.52,220.56 108.82,220.61 109.11,220.66 109.41,220.71 109.71,220.76 110.01,220.81 110.30,220.86 110.60,220.91 110.90,220.96 111.20,221.01 111.50,221.06 111.79,221.11 112.09,221.16 112.39,221.21 112.69,221.25 112.99,221.30 113.28,221.35 113.58,221.40 113.88,221.45 114.18,221.49 114.47,221.54 114.77,221.58 115.07,221.63 115.37,221.67 115.67,221.72 115.96,221.76 116.26,221.80 116.56,221.84 116.86,221.88 117.16,221.92 117.45,221.96 117.75,222.00 118.05,222.03 118.35,222.06 118.64,222.10 118.94,222.13 119.24,222.15 119.54,222.18 119.84,222.21 120.13,222.23 120.43,222.25 120.73,222.27 121.03,222.28 121.33,222.29 121.62,222.30 121.92,222.31 122.22,222.32 122.52,222.32 122.81,222.31 123.11,222.31 123.41,222.30 123.71,222.29 124.01,222.27 124.30,222.25 124.60,222.22 124.90,222.19 125.20,222.15 125.50,222.11 125.79,222.07 126.09,222.02 126.39,221.96 126.69,221.89 126.98,221.82 127.28,221.75 127.58,221.67 127.88,221.57 128.18,221.48 128.47,221.37 128.77,221.26 129.07,221.14 129.37,221.01 129.67,220.87 129.96,220.72 130.26,220.56 130.56,220.39 130.86,220.21 131.16,220.02 131.45,219.82 131.75,219.61 132.05,219.39 132.35,219.15 132.64,218.90 132.94,218.64 133.24,218.37 133.54,218.08 133.84,217.77 134.13,217.45 134.43,217.12 134.73,216.77 135.03,216.40 135.32,216.02 135.62,215.62 135.92,215.20 136.22,214.76 136.52,214.31 136.81,213.83 137.11,213.34 137.41,212.82 137.71,212.29 138.01,211.73 138.30,211.15 138.60,210.55 138.90,209.93 139.20,209.28 139.50,208.61 139.79,207.92 140.09,207.20 140.39,206.46 140.69,205.69 140.98,204.89 141.28,204.07 141.58,203.22 141.88,202.35 142.18,201.44 142.47,200.51 142.77,199.55 143.07,198.57 143.37,197.55 143.66,196.50 143.96,195.43 144.26,194.33 144.56,193.19 144.86,192.03 145.15,190.84 145.45,189.61 145.75,188.36 146.05,187.08 146.35,185.77 146.64,184.43 146.94,183.06 147.24,181.66 147.54,180.23 147.84,178.78 148.13,177.29 148.43,175.78 148.73,174.25 149.03,172.68 149.32,171.09 149.62,169.48 149.92,167.84 150.22,166.19 150.52,164.50 150.81,162.80 151.11,161.08 151.41,159.34 151.71,157.58 152.00,155.81 152.30,154.03 152.60,152.23 152.90,150.42 153.20,148.60 153.49,146.77 153.79,144.94 154.09,143.10 154.39,141.26 154.69,139.42 154.98,137.59 155.28,135.75 155.58,133.93 155.88,132.11 156.18,130.30 156.47,128.51 156.77,126.73 157.07,124.97 157.37,123.24 157.66,121.52 157.96,119.83 158.26,118.17 158.56,116.53 158.86,114.94 159.15,113.37 159.45,111.85 159.75,110.36 160.05,108.92 160.34,107.52 160.64,106.17 160.94,104.87 161.24,103.62 161.54,102.43 161.83,101.29 162.13,100.21 162.43,99.19 162.73,98.23 163.03,97.33 163.32,96.50 163.62,95.74 163.92,95.05 164.22,94.42 164.51,93.87 164.81,93.38 165.11,92.98 165.41,92.64 165.71,92.38 166.00,92.19 166.30,92.08 166.60,92.04 166.90,92.08 167.20,92.19 167.49,92.38 167.79,92.64 168.09,92.98 168.39,93.38 168.69,93.87 168.98,94.42 169.28,95.05 169.58,95.74 169.88,96.50 170.17,97.33 170.47,98.23 170.77,99.19 171.07,100.21 171.37,101.29 171.66,102.43 171.96,103.62 172.26,104.87 172.56,106.17 172.85,107.52 173.15,108.92 173.45,110.36 173.75,111.85 174.05,113.37 174.34,114.94 174.64,116.53 174.94,118.17 175.24,119.83 175.54,121.52 175.83,123.24 176.13,124.97 176.43,126.73 176.73,128.51 177.03,130.30 177.32,132.11 177.62,133.93 177.92,135.75 178.22,137.59 178.51,139.42 178.81,141.26 179.11,143.10 179.41,144.94 179.71,146.77 180.00,148.60 180.30,150.42 180.60,152.23 180.90,154.03 181.19,155.81 181.49,157.58 181.79,159.34 182.09,161.08 182.39,162.80 182.68,164.50 182.98,166.19 183.28,167.84 183.58,169.48 183.88,171.09 184.17,172.68 184.47,174.25 184.77,175.78 185.07,177.29 185.36,178.78 185.66,180.23 185.96,181.66 186.26,183.06 186.56,184.43 186.85,185.77 187.15,187.08 187.45,188.36 187.75,189.61 188.05,190.84 188.34,192.03 188.64,193.19 188.94,194.33 189.24,195.43 189.53,196.50 189.83,197.55 190.13,198.57 190.43,199.55 190.73,200.51 191.02,201.44 191.32,202.35 191.62,203.22 191.92,204.07 192.22,204.89 192.51,205.69 192.81,206.46 193.11,207.20 193.41,207.92 193.70,208.61 194.00,209.28 194.30,209.93 194.60,210.55 194.90,211.15 195.19,211.73 195.49,212.29 195.79,212.82 196.09,213.34 196.39,213.83 196.68,214.31 196.98,214.76 197.28,215.20 197.58,215.62 197.88,216.02 198.17,216.40 198.47,216.77 198.77,217.12 199.07,217.45 199.36,217.77 199.66,218.08 199.96,218.37 200.26,218.64 200.56,218.90 200.85,219.15 201.15,219.39 201.45,219.61 201.75,219.82 202.04,220.02 202.34,220.21 202.64,220.39 202.94,220.56 203.24,220.72 203.53,220.87 203.83,221.01 204.13,221.14 204.43,221.26 204.73,221.37 205.02,221.48 205.32,221.57 205.62,221.67 205.92,221.75 206.22,221.82 206.51,221.89 206.81,221.96 207.11,222.02 207.41,222.07 207.70,222.11 208.00,222.15 208.30,222.19 208.60,222.22 208.90,222.25 209.19,222.27 209.49,222.29 209.79,222.30 210.09,222.31 210.38,222.31 210.68,222.32 210.98,222.32 211.28,222.31 211.58,222.30 211.87,222.29 212.17,222.28 212.47,222.27 212.77,222.25 213.07,222.23 213.36,222.21 213.66,222.18 213.96,222.15 214.26,222.13 214.55,222.10 214.85,222.06 215.15,222.03 215.45,222.00 215.75,221.96 216.04,221.92 216.34,221.88 216.64,221.84 216.94,221.80 217.24,221.76 217.53,221.72 217.83,221.67 218.13,221.63 218.43,221.58 218.72,221.54 219.02,221.49 219.32,221.45 219.62,221.40 219.92,221.35 220.21,221.30 220.51,221.25 220.81,221.21 221.11,221.16 221.41,221.11 221.70,221.06 222.00,221.01 222.30,220.96 222.60,220.91 222.89,220.86 223.19,220.81 223.49,220.76 223.79,220.71 224.09,220.66 224.38,220.61 224.68,220.56 224.98,220.51 225.28,220.47 225.58,220.42 225.87,220.37 226.17,220.32 226.47,220.27 226.77,220.22 227.07,220.18 227.36,220.13 227.66,220.08 227.96,220.03 228.26,219.99 228.55,219.94 228.85,219.90 229.15,219.85 229.45,219.81 229.75,219.76 230.04,219.72 230.34,219.67 230.64,219.63 230.94,219.58 231.23,219.54 231.53,219.50 231.83,219.46 232.13,219.41 232.43,219.37 232.72,219.33 233.02,219.29 233.32,219.25 233.62,219.21 233.92,219.17 234.21,219.13 234.51,219.09 234.81,219.05 235.11,219.02 235.40,218.98 235.70,218.94 236.00,218.91 236.30,218.87 236.60,218.83 236.89,218.80 237.19,218.76 237.49,218.73 237.79,218.69 238.09,218.66 238.38,218.63 238.68,218.59 238.98,218.56 239.28,218.53 239.58,218.50 239.87,218.46 240.17,218.43 240.47,218.40 240.77,218.37 241.06,218.34 241.36,218.31 241.66,218.28 241.96,218.25 242.26,218.22 242.55,218.20 242.85,218.17 243.15,218.14 243.45,218.11 243.75,218.09 244.04,218.06 244.34,218.03 244.64,218.01 244.94,217.98 245.23,217.96 245.53,217.93 245.83,217.91 246.13,217.88 246.43,217.86 246.72,217.83 247.02,217.81 247.32,217.79 247.62,217.76 247.91,217.74 248.21,217.72 248.51,217.70 248.81,217.68 249.11,217.65 249.40,217.63 249.70,217.61 250.00,217.59 250.30,217.57 250.60,217.55 250.89,217.53 251.19,217.51 251.49,217.49 251.79,217.47 252.08,217.45 252.38,217.44 252.68,217.42 252.98,217.40 253.28,217.38 253.57,217.36 253.87,217.35 254.17,217.33 254.47,217.31 254.77,217.30 255.06,217.28 255.36,217.26 255.66,217.25 255.96,217.23 256.25,217.21 256.55,217.20 256.85,217.18 257.15,217.17 257.45,217.15 257.74,217.14 258.04,217.13 258.34,217.11 258.64,217.10 258.94,217.08 259.23,217.07 259.53,217.06 259.83,217.04 260.13,217.03 260.43,217.02 260.72,217.00 261.02,216.99 261.32,216.98 261.62,216.97 261.91,216.95 262.21,216.94 262.51,216.93 262.81,216.92 263.11,216.91 263.40,216.90 263.70,216.88 264.00,216.87 264.30,216.86 264.60,216.85 264.89,216.84 265.19,216.83 265.49,216.82 265.79,216.81 266.08,216.80 266.38,216.79 266.68,216.78 266.98,216.77 267.28,216.76 267.57,216.75 267.87,216.74 268.17,216.73 268.47,216.72 268.76,216.71 269.06,216.70 269.36,216.70 269.66,216.69 269.96,216.68 270.25,216.67 270.55,216.66 270.85,216.65" fill="none" stroke="#3f5b92" stroke-width="1.15"/>
<path d="M62.00,241.7v-3.6 M70.69,241.7v-2.2 M79.38,241.7v-2.2 M88.06,241.7v-2.2 M96.75,241.7v-2.2 M105.44,241.7v-2.2 M114.13,241.7v-2.2 M122.81,241.7v-2.2 M131.50,241.7v-3.6 M140.19,241.7v-2.2 M148.88,241.7v-2.2 M157.56,241.7v-2.2 M166.25,241.7v-2.2 M174.94,241.7v-2.2 M183.62,241.7v-2.2 M192.31,241.7v-2.2 M201.00,241.7v-3.6 M209.69,241.7v-2.2 M218.38,241.7v-2.2 M227.06,241.7v-2.2 M235.75,241.7v-2.2 M244.44,241.7v-2.2 M253.12,241.7v-2.2 M261.81,241.7v-2.2 M270.50,241.7v-3.6 M75.97,6.1v3 M89.94,6.1v3 M103.91,6.1v3 M117.88,6.1v3 M131.85,6.1v3 M145.82,6.1v3 M159.79,6.1v3 M173.76,6.1v3 M187.73,6.1v3 M201.70,6.1v3 M215.67,6.1v3 M229.64,6.1v3 M243.61,6.1v3 M257.58,6.1v3 M62.0,231.43h2.2 M270.5,231.43h-2.0 M62.0,220.97h2.2 M270.5,220.97h-2.0 M62.0,210.50h2.2 M270.5,210.50h-2.0 M62.0,200.03h2.2 M270.5,200.03h-2.0 M62.0,189.56h2.2 M270.5,189.56h-3.0 M62.0,179.10h2.2 M270.5,179.10h-2.0 M62.0,168.63h2.2 M270.5,168.63h-2.0 M62.0,158.16h2.2 M270.5,158.16h-2.0 M62.0,147.70h2.2 M270.5,147.70h-2.0 M62.0,137.23h2.2 M270.5,137.23h-3.0 M62.0,126.76h2.2 M270.5,126.76h-2.0 M62.0,116.30h2.2 M270.5,116.30h-2.0 M62.0,105.83h2.2 M270.5,105.83h-2.0 M62.0,95.36h2.2 M270.5,95.36h-2.0 M62.0,84.90h2.2 M270.5,84.90h-3.0 M62.0,74.43h2.2 M270.5,74.43h-2.0 M62.0,63.96h2.2 M270.5,63.96h-2.0 M62.0,53.49h2.2 M270.5,53.49h-2.0 M62.0,43.03h2.2 M270.5,43.03h-2.0 M62.0,32.56h2.2 M270.5,32.56h-3.0 M62.0,22.09h2.2 M270.5,22.09h-2.0 M62.0,11.63h2.2 M270.5,11.63h-2.0" stroke="#111" stroke-width="1.6" fill="none"/>
<rect x="62.0" y="6.1" width="208.5" height="235.6" fill="none" stroke="#1a1a1a" stroke-width="1.6"/>
<text x="52" y="35.36" class="tl" text-anchor="end">0.175</text>
<text x="52" y="88.60" class="tl" text-anchor="end">0.125</text>
<text x="52" y="141.23" class="tl" text-anchor="end">0.075</text>
<text x="52" y="192.76" class="tl" text-anchor="end">0.025</text>
<text x="52" y="245.70" class="tl" text-anchor="end">-0.025</text>
<text x="62.00" y="259.2" class="tl" text-anchor="middle">-0.3</text>
<text x="131.50" y="259.2" class="tl" text-anchor="middle">-0.1</text>
<text x="201.00" y="259.2" class="tl" text-anchor="middle">0.1</text>
<text x="270.50" y="259.2" class="tl" text-anchor="middle">0.3</text>
<text x="141.6" y="275.3" class="mi" font-size="14.5">γ</text>
<text x="152" y="275.3" class="at">[rad]</text>
<text transform="translate(151.2,304.0) scale(1,1.15)" class="cap">(</text>
<text transform="translate(156.8,302.7) scale(1.12,1)" class="cap">a</text>
<text transform="translate(165.0,304.0) scale(1,1.15)" class="cap">)</text>
<text transform="translate(13.8,152) rotate(-90)" style="font-family:Liberation Serif,serif;font-style:italic;font-weight:bold;font-size:16px">f</text>
<text transform="translate(15.8,144.4) rotate(-90)" style="font-family:Liberation Serif,serif;font-weight:bold;font-size:15.5px;font-size:11.5px">1</text>
<text transform="translate(13.8,137.6) rotate(-90)" style="font-family:Liberation Serif,serif;font-weight:bold;font-size:15.5px">(</text>
<text transform="translate(13.8,132.1) rotate(-90) skewX(-12)" style="font-family:Liberation Serif,serif;font-style:italic;font-weight:bold;font-size:16px">γ</text>
<text transform="translate(13.8,123.6) rotate(-90)" style="font-family:Liberation Serif,serif;font-weight:bold;font-size:15.5px">)</text>
<text transform="translate(13.8,114.3) rotate(-90)" style="font-size:14px;font-weight:bold;stroke:#000;stroke-width:0.2px">[N]</text>
<rect x="200" y="12.8" width="63.8" height="61.5" fill="#fff" stroke="#333" stroke-width="1.2"/>
<line x1="205" x2="213" y1="18.4" y2="18.4" stroke="#e8141c" stroke-width="1.6"/>
<text x="219.8" y="20.5" class="lg"><tspan font-style="italic">α</tspan><tspan font-size="6.5" dy="1.8">1</tspan></text>
<text x="231.4" y="21.5" class="lg" style="font-size:10.6px">=</text>
<text x="240" y="20.5" class="lg">0.1</text>
<line x1="205" x2="213" y1="26.9" y2="26.9" stroke="#3f5b92" stroke-width="1.6"/>
<text x="219.8" y="29.0" class="lg"><tspan font-style="italic">α</tspan><tspan font-size="6.5" dy="1.8">1</tspan></text>
<text x="231.4" y="30.0" class="lg" style="font-size:10.6px">=</text>
<text x="240" y="29.0" class="lg">0.11</text>
<line x1="205" x2="213" y1="35.4" y2="35.4" stroke="#ffbf00" stroke-width="1.6"/>
<text x="219.8" y="37.5" class="lg"><tspan font-style="italic">α</tspan><tspan font-size="6.5" dy="1.8">1</tspan></text>
<text x="231.4" y="38.5" class="lg" style="font-size:10.6px">=</text>
<text x="240" y="37.5" class="lg">0.12</text>
<line x1="205" x2="213" y1="43.9" y2="43.9" stroke="#9460c4" stroke-width="1.6"/>
<text x="219.8" y="46.0" class="lg"><tspan font-style="italic">α</tspan><tspan font-size="6.5" dy="1.8">1</tspan></text>
<text x="231.4" y="47.0" class="lg" style="font-size:10.6px">=</text>
<text x="240" y="46.0" class="lg">0.14</text>
<line x1="205" x2="213" y1="52.4" y2="52.4" stroke="#d4661c" stroke-width="1.6"/>
<text x="219.8" y="54.5" class="lg"><tspan font-style="italic">α</tspan><tspan font-size="6.5" dy="1.8">1</tspan></text>
<text x="231.4" y="55.5" class="lg" style="font-size:10.6px">=</text>
<text x="240" y="54.5" class="lg">0.16</text>
<line x1="205" x2="213" y1="60.9" y2="60.9" stroke="#557f42" stroke-width="1.6"/>
<text x="219.8" y="63.0" class="lg"><tspan font-style="italic">α</tspan><tspan font-size="6.5" dy="1.8">1</tspan></text>
<text x="231.4" y="64.0" class="lg" style="font-size:10.6px">=</text>
<text x="240" y="63.0" class="lg">0.18</text>
<line x1="205" x2="213" y1="69.4" y2="69.4" stroke="#262626" stroke-width="1.6"/>
<text x="219.8" y="71.5" class="lg"><tspan font-style="italic">α</tspan><tspan font-size="6.5" dy="1.8">1</tspan></text>
<text x="231.4" y="72.5" class="lg" style="font-size:10.6px">=</text>
<text x="240" y="71.5" class="lg">0.2</text>
<polyline points="109.03,82.68 109.08,82.70 109.12,82.72 109.16,82.74 109.21,82.76 109.25,82.78 109.29,82.80 109.33,82.83 109.38,82.86 109.42,82.89 109.46,82.93 109.51,82.97 109.55,83.01 109.59,83.05 109.63,83.10 109.68,83.15 109.72,83.21 109.76,83.27 109.80,83.34 109.85,83.42 109.89,83.50 109.93,83.59 109.98,83.68 110.02,83.78 110.06,83.89 110.10,84.01 110.15,84.13 110.19,84.26 110.23,84.40 110.27,84.55 110.32,84.70 110.36,84.85 110.40,85.00 110.45,85.14 110.49,85.27 110.53,85.37 110.57,85.44 110.62,85.47 110.66,85.43 110.70,85.29 110.74,85.04 110.79,84.63 110.83,84.03 110.87,83.18 110.92,82.04 110.96,80.53 111.00,78.61 111.04,76.20 111.09,73.26 111.13,69.76 111.17,65.68 111.22,61.06 111.26,55.97 111.30,50.54 111.34,44.98 111.39,39.51 111.43,34.45 111.47,30.09 111.51,26.73 111.56,24.60 111.60,23.87 111.64,24.60 111.69,26.73 111.73,30.09 111.77,34.45 111.81,39.51 111.86,44.98 111.90,50.54 111.94,55.97 111.98,61.06 112.03,65.68 112.07,69.76 112.11,73.26 112.16,76.20 112.20,78.61 112.24,80.53 112.28,82.04 112.33,83.18 112.37,84.03 112.41,84.63 112.45,85.04 112.50,85.29 112.54,85.43 112.58,85.47 112.63,85.44 112.67,85.37 112.71,85.27 112.75,85.14 112.80,85.00 112.84,84.85 112.88,84.70 112.93,84.55 112.97,84.40 113.01,84.26 113.05,84.13 113.10,84.01 113.14,83.89 113.18,83.78 113.22,83.68 113.27,83.59 113.31,83.50 113.35,83.42 113.40,83.34 113.44,83.27 113.48,83.21 113.52,83.15 113.57,83.10 113.61,83.05 113.65,83.01 113.69,82.97 113.74,82.93 113.78,82.89 113.82,82.86 113.87,82.83 113.91,82.80 113.95,82.78 113.99,82.76 114.04,82.74 114.08,82.72 114.12,82.70 114.16,82.68" fill="none" stroke="#e8141c" stroke-width="0.32" stroke-opacity="0.7"/>
<polyline points="109.03,82.68 109.08,82.70 109.12,82.72 109.16,82.73 109.21,82.75 109.25,82.78 109.29,82.80 109.33,82.83 109.38,82.85 109.42,82.88 109.46,82.91 109.51,82.95 109.55,82.99 109.59,83.03 109.63,83.07 109.68,83.12 109.72,83.17 109.76,83.22 109.80,83.28 109.85,83.34 109.89,83.41 109.93,83.48 109.98,83.55 110.02,83.63 110.06,83.72 110.10,83.80 110.15,83.89 110.19,83.99 110.23,84.08 110.27,84.17 110.32,84.26 110.36,84.34 110.40,84.42 110.45,84.47 110.49,84.51 110.53,84.51 110.57,84.47 110.62,84.38 110.66,84.22 110.70,83.97 110.74,83.61 110.79,83.13 110.83,82.48 110.87,81.64 110.92,80.58 110.96,79.27 111.00,77.67 111.04,75.77 111.09,73.55 111.13,71.00 111.17,68.14 111.22,65.02 111.26,61.68 111.30,58.24 111.34,54.80 111.39,51.51 111.43,48.52 111.47,45.99 111.51,44.06 111.56,42.85 111.60,42.44 111.64,42.85 111.69,44.06 111.73,45.99 111.77,48.52 111.81,51.51 111.86,54.80 111.90,58.24 111.94,61.68 111.98,65.02 112.03,68.14 112.07,71.00 112.11,73.55 112.16,75.77 112.20,77.67 112.24,79.27 112.28,80.58 112.33,81.64 112.37,82.48 112.41,83.13 112.45,83.61 112.50,83.97 112.54,84.22 112.58,84.38 112.63,84.47 112.67,84.51 112.71,84.51 112.75,84.47 112.80,84.42 112.84,84.34 112.88,84.26 112.93,84.17 112.97,84.08 113.01,83.99 113.05,83.89 113.10,83.80 113.14,83.72 113.18,83.63 113.22,83.55 113.27,83.48 113.31,83.41 113.35,83.34 113.40,83.28 113.44,83.22 113.48,83.17 113.52,83.12 113.57,83.07 113.61,83.03 113.65,82.99 113.69,82.95 113.74,82.91 113.78,82.88 113.82,82.85 113.87,82.83 113.91,82.80 113.95,82.78 113.99,82.75 114.04,82.73 114.08,82.72 114.12,82.70 114.16,82.68" fill="none" stroke="#3f5b92" stroke-width="0.32" stroke-opacity="0.7"/>
<polyline points="109.03,82.68 109.08,82.70 109.12,82.71 109.16,82.73 109.21,82.75 109.25,82.77 109.29,82.79 109.33,82.81 109.38,82.84 109.42,82.86 109.46,82.89 109.51,82.92 109.55,82.96 109.59,82.99 109.63,83.03 109.68,83.07 109.72,83.11 109.76,83.15 109.80,83.20 109.85,83.25 109.89,83.30 109.93,83.36 109.98,83.42 110.02,83.47 110.06,83.53 110.10,83.59 110.15,83.65 110.19,83.71 110.23,83.77 110.27,83.82 110.32,83.86 110.36,83.89 110.40,83.90 110.45,83.90 110.49,83.87 110.53,83.80 110.57,83.70 110.62,83.54 110.66,83.32 110.70,83.02 110.74,82.64 110.79,82.14 110.83,81.52 110.87,80.77 110.92,79.85 110.96,78.76 111.00,77.49 111.04,76.02 111.09,74.36 111.13,72.52 111.17,70.52 111.22,68.39 111.26,66.17 111.30,63.93 111.34,61.74 111.39,59.69 111.43,57.85 111.47,56.32 111.51,55.17 111.56,54.45 111.60,54.20 111.64,54.45 111.69,55.17 111.73,56.32 111.77,57.85 111.81,59.69 111.86,61.74 111.90,63.93 111.94,66.17 111.98,68.39 112.03,70.52 112.07,72.52 112.11,74.36 112.16,76.02 112.20,77.49 112.24,78.76 112.28,79.85 112.33,80.77 112.37,81.52 112.41,82.14 112.45,82.64 112.50,83.02 112.54,83.32 112.58,83.54 112.63,83.70 112.67,83.80 112.71,83.87 112.75,83.90 112.80,83.90 112.84,83.89 112.88,83.86 112.93,83.82 112.97,83.77 113.01,83.71 113.05,83.65 113.10,83.59 113.14,83.53 113.18,83.47 113.22,83.42 113.27,83.36 113.31,83.30 113.35,83.25 113.40,83.20 113.44,83.15 113.48,83.11 113.52,83.07 113.57,83.03 113.61,82.99 113.65,82.96 113.69,82.92 113.74,82.89 113.78,82.86 113.82,82.84 113.87,82.81 113.91,82.79 113.95,82.77 113.99,82.75 114.04,82.73 114.08,82.71 114.12,82.70 114.16,82.68" fill="none" stroke="#ffbf00" stroke-width="0.32" stroke-opacity="0.7"/>
<polyline points="109.03,82.67 109.08,82.68 109.12,82.69 109.16,82.71 109.21,82.72 109.25,82.74 109.29,82.76 109.33,82.77 109.38,82.79 109.42,82.81 109.46,82.83 109.51,82.86 109.55,82.88 109.59,82.90 109.63,82.93 109.68,82.95 109.72,82.98 109.76,83.01 109.80,83.04 109.85,83.06 109.89,83.09 109.93,83.12 109.98,83.14 110.02,83.17 110.06,83.19 110.10,83.21 110.15,83.23 110.19,83.23 110.23,83.24 110.27,83.23 110.32,83.21 110.36,83.17 110.40,83.12 110.45,83.05 110.49,82.96 110.53,82.83 110.57,82.68 110.62,82.48 110.66,82.24 110.70,81.95 110.74,81.60 110.79,81.20 110.83,80.72 110.87,80.18 110.92,79.56 110.96,78.86 111.00,78.09 111.04,77.24 111.09,76.33 111.13,75.36 111.17,74.35 111.22,73.32 111.26,72.28 111.30,71.27 111.34,70.32 111.39,69.44 111.43,68.68 111.47,68.05 111.51,67.59 111.56,67.30 111.60,67.20 111.64,67.30 111.69,67.59 111.73,68.05 111.77,68.68 111.81,69.44 111.86,70.32 111.90,71.27 111.94,72.28 111.98,73.32 112.03,74.35 112.07,75.36 112.11,76.33 112.16,77.24 112.20,78.09 112.24,78.86 112.28,79.56 112.33,80.18 112.37,80.72 112.41,81.20 112.45,81.60 112.50,81.95 112.54,82.24 112.58,82.48 112.63,82.68 112.67,82.83 112.71,82.96 112.75,83.05 112.80,83.12 112.84,83.17 112.88,83.21 112.93,83.23 112.97,83.24 113.01,83.23 113.05,83.23 113.10,83.21 113.14,83.19 113.18,83.17 113.22,83.14 113.27,83.12 113.31,83.09 113.35,83.06 113.40,83.04 113.44,83.01 113.48,82.98 113.52,82.95 113.57,82.93 113.61,82.90 113.65,82.88 113.69,82.86 113.74,82.83 113.78,82.81 113.82,82.79 113.87,82.77 113.91,82.76 113.95,82.74 113.99,82.72 114.04,82.71 114.08,82.69 114.12,82.68 114.16,82.67" fill="none" stroke="#9460c4" stroke-width="0.32" stroke-opacity="0.7"/>
<polyline points="109.03,82.65 109.08,82.66 109.12,82.67 109.16,82.68 109.21,82.69 109.25,82.70 109.29,82.71 109.33,82.72 109.38,82.74 109.42,82.75 109.46,82.76 109.51,82.78 109.55,82.79 109.59,82.81 109.63,82.82 109.68,82.84 109.72,82.85 109.76,82.86 109.80,82.88 109.85,82.89 109.89,82.90 109.93,82.90 109.98,82.91 110.02,82.91 110.06,82.91 110.10,82.90 110.15,82.89 110.19,82.87 110.23,82.85 110.27,82.81 110.32,82.76 110.36,82.70 110.40,82.63 110.45,82.54 110.49,82.44 110.53,82.31 110.57,82.16 110.62,81.98 110.66,81.78 110.70,81.55 110.74,81.28 110.79,80.99 110.83,80.66 110.87,80.29 110.92,79.89 110.96,79.46 111.00,79.00 111.04,78.51 111.09,78.00 111.13,77.48 111.17,76.94 111.22,76.42 111.26,75.90 111.30,75.41 111.34,74.95 111.39,74.54 111.43,74.18 111.47,73.90 111.51,73.68 111.56,73.56 111.60,73.51 111.64,73.56 111.69,73.68 111.73,73.90 111.77,74.18 111.81,74.54 111.86,74.95 111.90,75.41 111.94,75.90 111.98,76.42 112.03,76.94 112.07,77.48 112.11,78.00 112.16,78.51 112.20,79.00 112.24,79.46 112.28,79.89 112.33,80.29 112.37,80.66 112.41,80.99 112.45,81.28 112.50,81.55 112.54,81.78 112.58,81.98 112.63,82.16 112.67,82.31 112.71,82.44 112.75,82.54 112.80,82.63 112.84,82.70 112.88,82.76 112.93,82.81 112.97,82.85 113.01,82.87 113.05,82.89 113.10,82.90 113.14,82.91 113.18,82.91 113.22,82.91 113.27,82.90 113.31,82.90 113.35,82.89 113.40,82.88 113.44,82.86 113.48,82.85 113.52,82.84 113.57,82.82 113.61,82.81 113.65,82.79 113.69,82.78 113.74,82.76 113.78,82.75 113.82,82.74 113.87,82.72 113.91,82.71 113.95,82.70 113.99,82.69 114.04,82.68 114.08,82.67 114.12,82.66 114.16,82.65" fill="none" stroke="#d4661c" stroke-width="0.32" stroke-opacity="0.7"/>
<polyline points="109.03,82.62 109.08,82.63 109.12,82.63 109.16,82.64 109.21,82.65 109.25,82.66 109.29,82.66 109.33,82.67 109.38,82.68 109.42,82.69 109.46,82.70 109.51,82.70 109.55,82.71 109.59,82.72 109.63,82.72 109.68,82.73 109.72,82.73 109.76,82.74 109.80,82.74 109.85,82.74 109.89,82.73 109.93,82.73 109.98,82.72 110.02,82.71 110.06,82.70 110.10,82.68 110.15,82.65 110.19,82.62 110.23,82.58 110.27,82.54 110.32,82.49 110.36,82.42 110.40,82.35 110.45,82.27 110.49,82.17 110.53,82.06 110.57,81.94 110.62,81.80 110.66,81.64 110.70,81.47 110.74,81.28 110.79,81.08 110.83,80.85 110.87,80.61 110.92,80.36 110.96,80.09 111.00,79.81 111.04,79.53 111.09,79.23 111.13,78.94 111.17,78.65 111.22,78.36 111.26,78.09 111.30,77.83 111.34,77.59 111.39,77.38 111.43,77.20 111.47,77.06 111.51,76.96 111.56,76.89 111.60,76.87 111.64,76.89 111.69,76.96 111.73,77.06 111.77,77.20 111.81,77.38 111.86,77.59 111.90,77.83 111.94,78.09 111.98,78.36 112.03,78.65 112.07,78.94 112.11,79.23 112.16,79.53 112.20,79.81 112.24,80.09 112.28,80.36 112.33,80.61 112.37,80.85 112.41,81.08 112.45,81.28 112.50,81.47 112.54,81.64 112.58,81.80 112.63,81.94 112.67,82.06 112.71,82.17 112.75,82.27 112.80,82.35 112.84,82.42 112.88,82.49 112.93,82.54 112.97,82.58 113.01,82.62 113.05,82.65 113.10,82.68 113.14,82.70 113.18,82.71 113.22,82.72 113.27,82.73 113.31,82.73 113.35,82.74 113.40,82.74 113.44,82.74 113.48,82.73 113.52,82.73 113.57,82.72 113.61,82.72 113.65,82.71 113.69,82.70 113.74,82.70 113.78,82.69 113.82,82.68 113.87,82.67 113.91,82.66 113.95,82.66 113.99,82.65 114.04,82.64 114.08,82.63 114.12,82.63 114.16,82.62" fill="none" stroke="#557f42" stroke-width="0.32" stroke-opacity="0.7"/>
<polyline points="109.03,82.59 109.08,82.60 109.12,82.60 109.16,82.60 109.21,82.61 109.25,82.61 109.29,82.62 109.33,82.62 109.38,82.63 109.42,82.63 109.46,82.63 109.51,82.64 109.55,82.64 109.59,82.64 109.63,82.64 109.68,82.64 109.72,82.64 109.76,82.63 109.80,82.63 109.85,82.62 109.89,82.61 109.93,82.60 109.98,82.59 110.02,82.57 110.06,82.55 110.10,82.52 110.15,82.50 110.19,82.46 110.23,82.42 110.27,82.38 110.32,82.33 110.36,82.27 110.40,82.21 110.45,82.14 110.49,82.06 110.53,81.97 110.57,81.88 110.62,81.77 110.66,81.66 110.70,81.53 110.74,81.40 110.79,81.26 110.83,81.11 110.87,80.96 110.92,80.79 110.96,80.63 111.00,80.46 111.04,80.28 111.09,80.11 111.13,79.94 111.17,79.77 111.22,79.60 111.26,79.45 111.30,79.31 111.34,79.18 111.39,79.06 111.43,78.97 111.47,78.89 111.51,78.83 111.56,78.80 111.60,78.79 111.64,78.80 111.69,78.83 111.73,78.89 111.77,78.97 111.81,79.06 111.86,79.18 111.90,79.31 111.94,79.45 111.98,79.60 112.03,79.77 112.07,79.94 112.11,80.11 112.16,80.28 112.20,80.46 112.24,80.63 112.28,80.79 112.33,80.96 112.37,81.11 112.41,81.26 112.45,81.40 112.50,81.53 112.54,81.66 112.58,81.77 112.63,81.88 112.67,81.97 112.71,82.06 112.75,82.14 112.80,82.21 112.84,82.27 112.88,82.33 112.93,82.38 112.97,82.42 113.01,82.46 113.05,82.50 113.10,82.52 113.14,82.55 113.18,82.57 113.22,82.59 113.27,82.60 113.31,82.61 113.35,82.62 113.40,82.63 113.44,82.63 113.48,82.64 113.52,82.64 113.57,82.64 113.61,82.64 113.65,82.64 113.69,82.64 113.74,82.63 113.78,82.63 113.82,82.63 113.87,82.62 113.91,82.62 113.95,82.61 113.99,82.61 114.04,82.60 114.08,82.60 114.12,82.60 114.16,82.59" fill="none" stroke="#262626" stroke-width="0.32" stroke-opacity="0.7"/>
<line x1="84.74" x2="138.46" y1="82.45" y2="82.45" stroke="#a9afc8" stroke-width="0.85"/>
<rect x="77.3" y="15.6" width="68.60000000000001" height="75.4" fill="none" stroke="#333" stroke-width="0.85"/>
<path d="M81.67,91.0v-1.3 M85.95,91.0v-1.3 M90.22,91.0v-1.3 M94.50,91.0v-1.3 M98.77,91.0v-1.3 M103.05,91.0v-1.3 M107.32,91.0v-1.3 M111.60,91.0v-1.3 M115.88,91.0v-1.3 M120.15,91.0v-1.3 M124.42,91.0v-1.3 M128.70,91.0v-1.3 M132.97,91.0v-1.3 M137.25,91.0v-1.3 M141.53,91.0v-1.3 M79.40,15.6v1.1 M81.50,15.6v1.1 M83.60,15.6v1.1 M85.70,15.6v1.1 M87.80,15.6v1.1 M89.90,15.6v1.1 M92.00,15.6v1.1 M94.10,15.6v1.1 M96.20,15.6v1.1 M98.30,15.6v1.1 M100.40,15.6v1.1 M102.50,15.6v1.1 M104.60,15.6v1.1 M106.70,15.6v1.1 M108.80,15.6v1.1 M110.90,15.6v1.1 M113.00,15.6v1.1 M115.10,15.6v1.1 M117.20,15.6v1.1 M119.30,15.6v1.1 M121.40,15.6v1.1 M123.50,15.6v1.1 M125.60,15.6v1.1 M127.70,15.6v1.1 M129.80,15.6v1.1 M131.90,15.6v1.1 M134.00,15.6v1.1 M136.10,15.6v1.1 M138.20,15.6v1.1 M140.30,15.6v1.1 M142.40,15.6v1.1 M144.50,15.6v1.1 M77.3,87.62h1.2 M145.9,87.62h-1.2 M77.3,84.24h1.2 M145.9,84.24h-1.2 M77.3,80.86h1.2 M145.9,80.86h-1.2 M77.3,77.48h1.2 M145.9,77.48h-1.2 M77.3,74.10h1.2 M145.9,74.10h-1.2 M77.3,70.72h1.2 M145.9,70.72h-1.2 M77.3,67.34h1.2 M145.9,67.34h-1.2 M77.3,63.96h1.2 M145.9,63.96h-1.2 M77.3,60.58h1.2 M145.9,60.58h-1.2 M77.3,57.20h1.2 M145.9,57.20h-1.2 M77.3,53.82h1.2 M145.9,53.82h-1.2 M77.3,50.44h1.2 M145.9,50.44h-1.2 M77.3,47.06h1.2 M145.9,47.06h-1.2 M77.3,43.68h1.2 M145.9,43.68h-1.2 M77.3,40.30h1.2 M145.9,40.30h-1.2 M77.3,36.92h1.2 M145.9,36.92h-1.2 M77.3,33.54h1.2 M145.9,33.54h-1.2 M77.3,30.16h1.2 M145.9,30.16h-1.2 M77.3,26.78h1.2 M145.9,26.78h-1.2 M77.3,23.40h1.2 M145.9,23.40h-1.2 M77.3,20.02h1.2 M145.9,20.02h-1.2 M77.3,16.64h1.2 M145.9,16.64h-1.2" stroke="#222" stroke-width="0.9" fill="none"/>
<text x="74.8" y="24.70" class="it" text-anchor="end">0.175</text>
<text x="74.8" y="41.60" class="it" text-anchor="end">0.125</text>
<text x="74.8" y="58.50" class="it" text-anchor="end">0.075</text>
<text x="74.8" y="75.40" class="it" text-anchor="end">0.025</text>
<text x="74.8" y="92.30" class="it" text-anchor="end">-0.025</text>
<text x="77.40" y="96.2" class="it" text-anchor="middle">-4</text>
<text x="85.95" y="96.2" class="it" text-anchor="middle">-3</text>
<text x="94.50" y="96.2" class="it" text-anchor="middle">-2</text>
<text x="103.05" y="96.2" class="it" text-anchor="middle">-1</text>
<text x="111.60" y="96.2" class="it" text-anchor="middle">0</text>
<text x="120.15" y="96.2" class="it" text-anchor="middle">1</text>
<text x="128.70" y="96.2" class="it" text-anchor="middle">2</text>
<text x="137.25" y="96.2" class="it" text-anchor="middle">3</text>
<text x="145.80" y="96.2" class="it" text-anchor="middle">4</text>
<line x1="84.74" x2="84.74" y1="72" y2="87" stroke="#888" stroke-width="1.6" stroke-dasharray="1.1 0.8"/>
<path d="M82.54,86.4 L86.94,86.4 L84.74,90.9Z" fill="#111"/>
<line x1="138.46" x2="138.46" y1="72" y2="87" stroke="#888" stroke-width="1.6" stroke-dasharray="1.1 0.8"/>
<path d="M136.26,86.4 L140.66,86.4 L138.46,90.9Z" fill="#111"/>
<line x1="77.6" x2="83.8" y1="63.8" y2="63.8" stroke="#666" stroke-width="1.2"/>
<text x="84.5" y="66.6" class="pi">π</text>
<text x="135.6" y="66.6" class="pi">π</text>
<polyline points="390.00,223.03 390.35,223.06 390.71,223.09 391.06,223.13 391.41,223.16 391.76,223.20 392.12,223.23 392.47,223.27 392.82,223.30 393.18,223.34 393.53,223.38 393.88,223.41 394.24,223.45 394.59,223.49 394.94,223.53 395.29,223.57 395.65,223.61 396.00,223.65 396.35,223.69 396.71,223.73 397.06,223.77 397.41,223.81 397.77,223.85 398.12,223.90 398.47,223.94 398.82,223.98 399.18,224.03 399.53,224.07 399.88,224.12 400.24,224.16 400.59,224.21 400.94,224.26 401.30,224.30 401.65,224.35 402.00,224.40 402.35,224.45 402.71,224.50 403.06,224.55 403.41,224.60 403.77,224.65 404.12,224.70 404.47,224.75 404.83,224.80 405.18,224.86 405.53,224.91 405.88,224.97 406.24,225.02 406.59,225.08 406.94,225.13 407.30,225.19 407.65,225.24 408.00,225.30 408.36,225.36 408.71,225.42 409.06,225.48 409.41,225.54 409.77,225.60 410.12,225.66 410.47,225.72 410.83,225.78 411.18,225.84 411.53,225.90 411.89,225.97 412.24,226.03 412.59,226.09 412.94,226.16 413.30,226.22 413.65,226.29 414.00,226.36 414.36,226.42 414.71,226.49 415.06,226.56 415.42,226.62 415.77,226.69 416.12,226.76 416.47,226.83 416.83,226.90 417.18,226.97 417.53,227.04 417.89,227.11 418.24,227.18 418.59,227.25 418.95,227.32 419.30,227.40 419.65,227.47 420.00,227.54 420.36,227.61 420.71,227.69 421.06,227.76 421.42,227.83 421.77,227.90 422.12,227.98 422.48,228.05 422.83,228.12 423.18,228.20 423.53,228.27 423.89,228.34 424.24,228.42 424.59,228.49 424.95,228.56 425.30,228.63 425.65,228.70 426.01,228.78 426.36,228.85 426.71,228.92 427.06,228.99 427.42,229.06 427.77,229.12 428.12,229.19 428.48,229.26 428.83,229.33 429.18,229.39 429.54,229.46 429.89,229.52 430.24,229.58 430.59,229.64 430.95,229.70 431.30,229.76 431.65,229.81 432.01,229.87 432.36,229.92 432.71,229.97 433.07,230.02 433.42,230.07 433.77,230.11 434.12,230.16 434.48,230.20 434.83,230.23 435.18,230.27 435.54,230.30 435.89,230.33 436.24,230.36 436.60,230.38 436.95,230.40 437.30,230.41 437.65,230.42 438.01,230.43 438.36,230.43 438.71,230.43 439.07,230.43 439.42,230.41 439.77,230.40 440.13,230.38 440.48,230.35 440.83,230.32 441.19,230.28 441.54,230.24 441.89,230.18 442.24,230.13 442.60,230.06 442.95,229.99 443.30,229.91 443.66,229.82 444.01,229.73 444.36,229.62 444.71,229.51 445.07,229.39 445.42,229.26 445.77,229.11 446.13,228.96 446.48,228.80 446.83,228.63 447.19,228.44 447.54,228.24 447.89,228.04 448.25,227.81 448.60,227.58 448.95,227.33 449.30,227.07 449.66,226.80 450.01,226.50 450.36,226.20 450.72,225.88 451.07,225.54 451.42,225.18 451.77,224.81 452.13,224.42 452.48,224.01 452.83,223.59 453.19,223.14 453.54,222.68 453.89,222.19 454.25,221.68 454.60,221.15 454.95,220.60 455.30,220.03 455.66,219.43 456.01,218.81 456.36,218.16 456.72,217.49 457.07,216.79 457.42,216.07 457.78,215.32 458.13,214.54 458.48,213.74 458.83,212.90 459.19,212.04 459.54,211.14 459.89,210.22 460.25,209.26 460.60,208.27 460.95,207.25 461.31,206.20 461.66,205.11 462.01,203.99 462.36,202.84 462.72,201.65 463.07,200.42 463.42,199.16 463.78,197.86 464.13,196.52 464.48,195.15 464.84,193.74 465.19,192.29 465.54,190.80 465.89,189.28 466.25,187.71 466.60,186.11 466.95,184.46 467.31,182.78 467.66,181.06 468.01,179.29 468.37,177.49 468.72,175.65 469.07,173.77 469.42,171.84 469.78,169.88 470.13,167.88 470.48,165.84 470.84,163.76 471.19,161.65 471.54,159.49 471.90,157.30 472.25,155.07 472.60,152.81 472.95,150.51 473.31,148.18 473.66,145.81 474.01,143.42 474.37,140.99 474.72,138.53 475.07,136.04 475.43,133.53 475.78,130.99 476.13,128.42 476.48,125.83 476.84,123.23 477.19,120.60 477.54,117.95 477.90,115.29 478.25,112.62 478.60,109.93 478.96,107.24 479.31,104.54 479.66,101.83 480.01,99.12 480.37,96.41 480.72,93.71 481.07,91.01 481.43,88.31 481.78,85.63 482.13,82.96 482.49,80.31 482.84,77.68 483.19,75.06 483.54,72.48 483.90,69.92 484.25,67.39 484.60,64.90 484.96,62.44 485.31,60.03 485.66,57.66 486.02,55.33 486.37,53.05 486.72,50.83 487.07,48.65 487.43,46.54 487.78,44.49 488.13,42.50 488.49,40.58 488.84,38.73 489.19,36.95 489.55,35.24 489.90,33.62 490.25,32.07 490.60,30.60 490.96,29.22 491.31,27.92 491.66,26.71 492.02,25.59 492.37,24.56 492.72,23.62 493.08,22.78 493.43,22.04 493.78,21.39 494.13,20.84 494.49,20.39 494.84,20.04 495.19,19.78 495.55,19.63 495.90,19.58 496.25,19.63 496.61,19.78 496.96,20.04 497.31,20.39 497.66,20.84 498.02,21.39 498.37,22.04 498.72,22.78 499.08,23.62 499.43,24.56 499.78,25.59 500.14,26.71 500.49,27.92 500.84,29.22 501.19,30.60 501.55,32.07 501.90,33.62 502.25,35.24 502.61,36.95 502.96,38.73 503.31,40.58 503.67,42.50 504.02,44.49 504.37,46.54 504.72,48.65 505.08,50.83 505.43,53.05 505.78,55.33 506.14,57.66 506.49,60.03 506.84,62.44 507.20,64.90 507.55,67.39 507.90,69.92 508.25,72.48 508.61,75.06 508.96,77.68 509.31,80.31 509.67,82.96 510.02,85.63 510.37,88.31 510.73,91.01 511.08,93.71 511.43,96.41 511.78,99.12 512.14,101.83 512.49,104.54 512.84,107.24 513.20,109.93 513.55,112.62 513.90,115.29 514.26,117.95 514.61,120.60 514.96,123.23 515.31,125.83 515.67,128.42 516.02,130.99 516.37,133.53 516.73,136.04 517.08,138.53 517.43,140.99 517.79,143.42 518.14,145.81 518.49,148.18 518.85,150.51 519.20,152.81 519.55,155.07 519.90,157.30 520.26,159.49 520.61,161.65 520.96,163.76 521.32,165.84 521.67,167.88 522.02,169.88 522.38,171.84 522.73,173.77 523.08,175.65 523.43,177.49 523.79,179.29 524.14,181.06 524.49,182.78 524.85,184.46 525.20,186.11 525.55,187.71 525.90,189.28 526.26,190.80 526.61,192.29 526.96,193.74 527.32,195.15 527.67,196.52 528.02,197.86 528.38,199.16 528.73,200.42 529.08,201.65 529.43,202.84 529.79,203.99 530.14,205.11 530.49,206.20 530.85,207.25 531.20,208.27 531.55,209.26 531.91,210.22 532.26,211.14 532.61,212.04 532.97,212.90 533.32,213.74 533.67,214.54 534.02,215.32 534.38,216.07 534.73,216.79 535.08,217.49 535.44,218.16 535.79,218.81 536.14,219.43 536.50,220.03 536.85,220.60 537.20,221.15 537.55,221.68 537.91,222.19 538.26,222.68 538.61,223.14 538.97,223.59 539.32,224.01 539.67,224.42 540.02,224.81 540.38,225.18 540.73,225.54 541.08,225.88 541.44,226.20 541.79,226.50 542.14,226.80 542.50,227.07 542.85,227.33 543.20,227.58 543.55,227.81 543.91,228.04 544.26,228.24 544.61,228.44 544.97,228.63 545.32,228.80 545.67,228.96 546.03,229.11 546.38,229.26 546.73,229.39 547.08,229.51 547.44,229.62 547.79,229.73 548.14,229.82 548.50,229.91 548.85,229.99 549.20,230.06 549.56,230.13 549.91,230.18 550.26,230.24 550.62,230.28 550.97,230.32 551.32,230.35 551.67,230.38 552.03,230.40 552.38,230.41 552.73,230.43 553.09,230.43 553.44,230.43 553.79,230.43 554.14,230.42 554.50,230.41 554.85,230.40 555.20,230.38 555.56,230.36 555.91,230.33 556.26,230.30 556.62,230.27 556.97,230.23 557.32,230.20 557.67,230.16 558.03,230.11 558.38,230.07 558.73,230.02 559.09,229.97 559.44,229.92 559.79,229.87 560.15,229.81 560.50,229.76 560.85,229.70 561.20,229.64 561.56,229.58 561.91,229.52 562.26,229.46 562.62,229.39 562.97,229.33 563.32,229.26 563.68,229.19 564.03,229.12 564.38,229.06 564.74,228.99 565.09,228.92 565.44,228.85 565.79,228.78 566.15,228.70 566.50,228.63 566.85,228.56 567.21,228.49 567.56,228.42 567.91,228.34 568.26,228.27 568.62,228.20 568.97,228.12 569.32,228.05 569.68,227.98 570.03,227.90 570.38,227.83 570.74,227.76 571.09,227.69 571.44,227.61 571.79,227.54 572.15,227.47 572.50,227.40 572.85,227.32 573.21,227.25 573.56,227.18 573.91,227.11 574.27,227.04 574.62,226.97 574.97,226.90 575.32,226.83 575.68,226.76 576.03,226.69 576.38,226.62 576.74,226.56 577.09,226.49 577.44,226.42 577.80,226.36 578.15,226.29 578.50,226.22 578.86,226.16 579.21,226.09 579.56,226.03 579.91,225.97 580.27,225.90 580.62,225.84 580.97,225.78 581.33,225.72 581.68,225.66 582.03,225.60 582.38,225.54 582.74,225.48 583.09,225.42 583.44,225.36 583.80,225.30 584.15,225.24 584.50,225.19 584.86,225.13 585.21,225.08 585.56,225.02 585.91,224.97 586.27,224.91 586.62,224.86 586.97,224.80 587.33,224.75 587.68,224.70 588.03,224.65 588.39,224.60 588.74,224.55 589.09,224.50 589.44,224.45 589.80,224.40 590.15,224.35 590.50,224.30 590.86,224.26 591.21,224.21 591.56,224.16 591.92,224.12 592.27,224.07 592.62,224.03 592.98,223.98 593.33,223.94 593.68,223.90 594.03,223.85 594.39,223.81 594.74,223.77 595.09,223.73 595.45,223.69 595.80,223.65 596.15,223.61 596.50,223.57 596.86,223.53 597.21,223.49 597.56,223.45 597.92,223.41 598.27,223.38 598.62,223.34 598.98,223.30 599.33,223.27 599.68,223.23 600.03,223.20 600.39,223.16 600.74,223.13 601.09,223.09 601.45,223.06 601.80,223.03" fill="none" stroke="#2f4f94" stroke-width="1.45"/>
<path d="M496.00,14.70L498.70,17.40L496.00,20.10L493.30,17.40Z M492.30,20.30L495.00,23.00L492.30,25.70L489.60,23.00Z M489.20,36.60L491.90,39.30L489.20,42.00L486.50,39.30Z M485.00,59.60L487.70,62.30L485.00,65.00L482.30,62.30Z M481.60,85.90L484.30,88.60L481.60,91.30L478.90,88.60Z M478.00,115.30L480.70,118.00L478.00,120.70L475.30,118.00Z M474.30,142.50L477.00,145.20L474.30,147.90L471.60,145.20Z M471.10,165.20L473.80,167.90L471.10,170.60L468.40,167.90Z M467.30,184.70L470.00,187.40L467.30,190.10L464.60,187.40Z M464.10,198.70L466.80,201.40L464.10,204.10L461.40,201.40Z M460.20,209.40L462.90,212.10L460.20,214.80L457.50,212.10Z M457.20,217.20L459.90,219.90L457.20,222.60L454.50,219.90Z M453.30,221.90L456.00,224.60L453.30,227.30L450.60,224.60Z M449.60,225.50L452.30,228.20L449.60,230.90L446.90,228.20Z M446.80,226.70L449.50,229.40L446.80,232.10L444.10,229.40Z M442.80,227.50L445.50,230.20L442.80,232.90L440.10,230.20Z M439.30,227.50L442.00,230.20L439.30,232.90L436.60,230.20Z M499.40,20.30L502.10,23.00L499.40,25.70L496.70,23.00Z M502.50,36.60L505.20,39.30L502.50,42.00L499.80,39.30Z M506.70,59.60L509.40,62.30L506.70,65.00L504.00,62.30Z M510.10,85.90L512.80,88.60L510.10,91.30L507.40,88.60Z M513.70,115.30L516.40,118.00L513.70,120.70L511.00,118.00Z M517.40,142.50L520.10,145.20L517.40,147.90L514.70,145.20Z M520.60,165.20L523.30,167.90L520.60,170.60L517.90,167.90Z M524.40,184.70L527.10,187.40L524.40,190.10L521.70,187.40Z M527.60,198.70L530.30,201.40L527.60,204.10L524.90,201.40Z M531.50,209.40L534.20,212.10L531.50,214.80L528.80,212.10Z M534.50,217.20L537.20,219.90L534.50,222.60L531.80,219.90Z M538.40,221.90L541.10,224.60L538.40,227.30L535.70,224.60Z M542.10,225.50L544.80,228.20L542.10,230.90L539.40,228.20Z M544.90,226.70L547.60,229.40L544.90,232.10L542.20,229.40Z M548.90,227.50L551.60,230.20L548.90,232.90L546.20,230.20Z M552.40,227.50L555.10,230.20L552.40,232.90L549.70,230.20Z" fill="#ffc000"/>
<path d="M397.36,241.5v-2.2 M397.36,6.1v3 M404.42,241.5v-2.2 M404.42,6.1v3 M411.48,241.5v-2.2 M411.48,6.1v3 M418.54,241.5v-2.2 M418.54,6.1v3 M425.60,241.5v-3.0 M425.60,6.1v3 M432.66,241.5v-2.2 M432.66,6.1v3 M439.72,241.5v-2.2 M439.72,6.1v3 M446.78,241.5v-2.2 M446.78,6.1v3 M453.84,241.5v-2.2 M453.84,6.1v3 M460.90,241.5v-3.0 M460.90,6.1v3 M467.96,241.5v-2.2 M467.96,6.1v3 M475.02,241.5v-2.2 M475.02,6.1v3 M482.08,241.5v-2.2 M482.08,6.1v3 M489.14,241.5v-2.2 M489.14,6.1v3 M496.20,241.5v-3.0 M496.20,6.1v3 M503.26,241.5v-2.2 M503.26,6.1v3 M510.32,241.5v-2.2 M510.32,6.1v3 M517.38,241.5v-2.2 M517.38,6.1v3 M524.44,241.5v-2.2 M524.44,6.1v3 M531.50,241.5v-3.0 M531.50,6.1v3 M538.56,241.5v-2.2 M538.56,6.1v3 M545.62,241.5v-2.2 M545.62,6.1v3 M552.68,241.5v-2.2 M552.68,6.1v3 M559.74,241.5v-2.2 M559.74,6.1v3 M566.80,241.5v-3.0 M566.80,6.1v3 M573.86,241.5v-2.2 M573.86,6.1v3 M580.92,241.5v-2.2 M580.92,6.1v3 M587.98,241.5v-2.2 M587.98,6.1v3 M595.04,241.5v-2.2 M595.04,6.1v3 M390.3,232.94h2.2 M602.1,232.94h-3 M390.3,224.38h2.2 M602.1,224.38h-3 M390.3,215.82h2.2 M602.1,215.82h-3 M390.3,207.26h2.2 M602.1,207.26h-3 M390.3,198.70h2.6 M602.1,198.70h-3 M390.3,190.14h2.2 M602.1,190.14h-3 M390.3,181.58h2.2 M602.1,181.58h-3 M390.3,173.02h2.2 M602.1,173.02h-3 M390.3,164.46h2.2 M602.1,164.46h-3 M390.3,155.90h2.6 M602.1,155.90h-3 M390.3,147.34h2.2 M602.1,147.34h-3 M390.3,138.78h2.2 M602.1,138.78h-3 M390.3,130.22h2.2 M602.1,130.22h-3 M390.3,121.66h2.2 M602.1,121.66h-3 M390.3,113.10h2.6 M602.1,113.10h-3 M390.3,104.54h2.2 M602.1,104.54h-3 M390.3,95.98h2.2 M602.1,95.98h-3 M390.3,87.42h2.2 M602.1,87.42h-3 M390.3,78.86h2.2 M602.1,78.86h-3 M390.3,70.30h2.6 M602.1,70.30h-3 M390.3,61.74h2.2 M602.1,61.74h-3 M390.3,53.18h2.2 M602.1,53.18h-3 M390.3,44.62h2.2 M602.1,44.62h-3 M390.3,36.06h2.2 M602.1,36.06h-3 M390.3,27.50h2.6 M602.1,27.50h-3 M390.3,18.94h2.2 M602.1,18.94h-3 M390.3,10.38h2.2 M602.1,10.38h-3" stroke="#111" stroke-width="1.6" fill="none"/>
<rect x="390.3" y="6.1" width="211.8" height="235.4" fill="none" stroke="#1a1a1a" stroke-width="1.6"/>
<text x="381.3" y="31.50" class="tl" text-anchor="end">0.09</text>
<text x="381.3" y="74.30" class="tl" text-anchor="end">0.07</text>
<text x="381.3" y="117.10" class="tl" text-anchor="end">0.05</text>
<text x="381.3" y="159.90" class="tl" text-anchor="end">0.03</text>
<text x="381.3" y="202.70" class="tl" text-anchor="end">0.01</text>
<text x="381.3" y="245.50" class="tl" text-anchor="end">-0.01</text>
<text x="390.30" y="259.2" class="tl" text-anchor="middle">-0.03</text>
<text x="425.60" y="259.2" class="tl" text-anchor="middle">-0.02</text>
<text x="460.90" y="259.2" class="tl" text-anchor="middle">-0.01</text>
<text x="496.20" y="259.2" class="tl" text-anchor="middle">0</text>
<text x="531.50" y="259.2" class="tl" text-anchor="middle">0.01</text>
<text x="566.80" y="259.2" class="tl" text-anchor="middle">0.02</text>
<text x="602.10" y="259.2" class="tl" text-anchor="middle">0.03</text>
<text x="495.6" y="276.3" class="at" text-anchor="middle">d [m]</text>
<text transform="translate(480.4,304.0) scale(1,1.15)" class="cap">(</text>
<text transform="translate(486.8,302.7) scale(1.0,1)" class="cap">b</text>
<text transform="translate(494.8,304.0) scale(1,1.15)" class="cap">)</text>
<text transform="translate(348.6,207.2) rotate(-90)" style="font-size:14px;font-weight:bold;stroke:#000;stroke-width:0.2px">Magnetic Force</text>
<text transform="translate(348.6,100) rotate(-90)" style="font-family:Liberation Serif,serif;font-style:italic;font-weight:bold;font-size:16px">f</text>
<text transform="translate(350.6,92.2) rotate(-90)" style="font-family:Liberation Serif,serif;font-weight:bold;font-size:15.5px;font-size:11.5px">1</text>
<text transform="translate(348.6,81.4) rotate(-90)" style="font-size:14px;font-weight:bold;stroke:#000;stroke-width:0.2px">[N]</text>
<rect x="524.8" y="11.6" width="70.4" height="29.6" fill="#fff" stroke="#222" stroke-width="1.3"/>
<line x1="527.4" x2="534.7" y1="19.3" y2="19.3" stroke="#2f4f94" stroke-width="1.6"/>
<path d="M531,30.5L533.9,33.4L531,36.3L528.1,33.4Z" fill="#ffc000"/>
<text x="539.6" y="23.2" class="lgb">Theory</text>
<text x="539.6" y="37.1" class="lgb">Experiment</text>
</svg>
</body></html>
